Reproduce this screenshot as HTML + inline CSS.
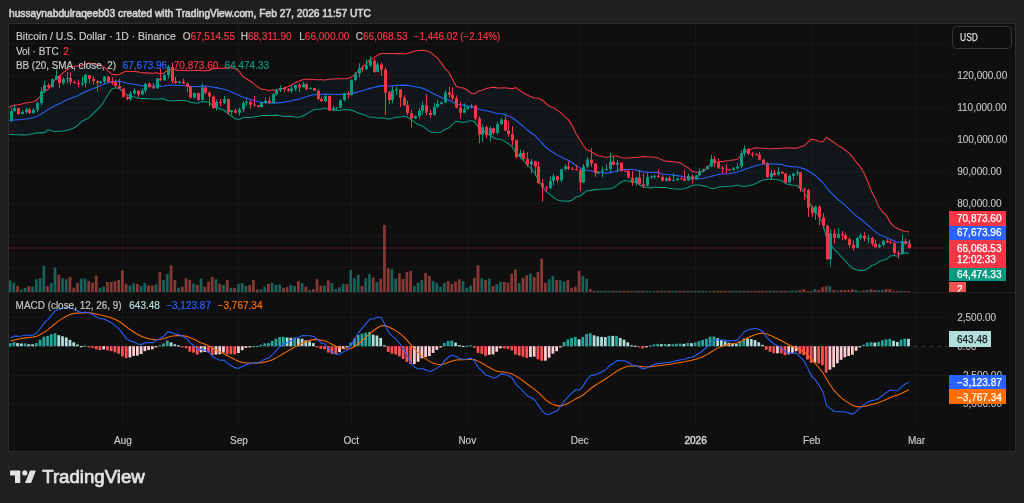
<!DOCTYPE html>
<html><head><meta charset="utf-8"><style>
html,body{margin:0;padding:0;width:1024px;height:503px;overflow:hidden;background:#1f1f1f;}
svg text{font-family:"Liberation Sans",sans-serif;}
text{stroke-width:0.2px} .tt{stroke-width:0.6px} .th{stroke-width:0.25px} .tl{stroke-width:0.1px}
</style></head><body>
<svg width="1024" height="503" viewBox="0 0 1024 503" style="position:absolute;left:0;top:0;display:block;will-change:transform">
<rect x="9" y="24" width="1006" height="428" fill="#0f0f0f"/><line x1="122.5" y1="24" x2="122.5" y2="427.0" stroke="#171717" stroke-width="1"/><line x1="238.5" y1="24" x2="238.5" y2="427.0" stroke="#171717" stroke-width="1"/><line x1="351.5" y1="24" x2="351.5" y2="427.0" stroke="#171717" stroke-width="1"/><line x1="467.5" y1="24" x2="467.5" y2="427.0" stroke="#171717" stroke-width="1"/><line x1="579.5" y1="24" x2="579.5" y2="427.0" stroke="#171717" stroke-width="1"/><line x1="695.5" y1="24" x2="695.5" y2="427.0" stroke="#171717" stroke-width="1"/><line x1="811.5" y1="24" x2="811.5" y2="427.0" stroke="#171717" stroke-width="1"/><line x1="916.5" y1="24" x2="916.5" y2="427.0" stroke="#171717" stroke-width="1"/><line x1="9" y1="267.5" x2="948" y2="267.5" stroke="#171717" stroke-width="1"/><line x1="9" y1="235.5" x2="948" y2="235.5" stroke="#171717" stroke-width="1"/><line x1="9" y1="203.5" x2="948" y2="203.5" stroke="#171717" stroke-width="1"/><line x1="9" y1="171.5" x2="948" y2="171.5" stroke="#171717" stroke-width="1"/><line x1="9" y1="139.5" x2="948" y2="139.5" stroke="#171717" stroke-width="1"/><line x1="9" y1="107.5" x2="948" y2="107.5" stroke="#171717" stroke-width="1"/><line x1="9" y1="75.5" x2="948" y2="75.5" stroke="#171717" stroke-width="1"/><line x1="9" y1="43.5" x2="948" y2="43.5" stroke="#171717" stroke-width="1"/><line x1="9" y1="317.5" x2="948" y2="317.5" stroke="#171717" stroke-width="1"/><line x1="9" y1="375.5" x2="948" y2="375.5" stroke="#171717" stroke-width="1"/><line x1="9" y1="404.5" x2="948" y2="404.5" stroke="#171717" stroke-width="1"/><defs><clipPath id="cp1"><rect x="9" y="24" width="939" height="268.5"/></clipPath><clipPath id="cp2"><rect x="9" y="293.0" width="939" height="134.0"/></clipPath></defs><g clip-path="url(#cp1)"><path d="M6.85,108.36 L10.6,106.74 L14.34,105.12 L18.08,104.65 L21.83,104 L25.57,103.04 L29.32,102.45 L33.06,101.64 L36.8,99.99 L40.55,95.97 L44.29,91.47 L48.03,89.47 L51.78,84.22 L55.52,78.95 L59.26,76.09 L63.01,72.82 L66.75,69.8 L70.49,67.87 L74.24,66.4 L77.98,65.66 L81.72,65.66 L85.47,63.95 L89.21,63.03 L92.95,63.42 L96.7,64.27 L100.44,65.18 L104.18,67.16 L107.93,70.61 L111.67,74.06 L115.41,74.85 L119.16,74.47 L122.9,72.54 L126.64,71.03 L130.39,71.56 L134.13,71.6 L137.87,71.86 L141.62,72.71 L145.36,72.87 L149.1,73.12 L152.85,73.31 L156.59,72.71 L160.33,73.66 L164.08,72.89 L167.82,69.84 L171.56,69.65 L175.31,69.73 L179.05,70.37 L182.79,70.52 L186.54,70.81 L190.28,70.51 L194.02,70.49 L197.77,70.2 L201.51,70.62 L205.25,70.65 L209,70.39 L212.74,68.76 L216.49,68.27 L220.23,68.24 L223.97,68.36 L227.72,67.28 L231.46,67.99 L235.2,68.64 L238.95,71 L242.69,76.42 L246.43,78.76 L250.18,81 L253.92,83.93 L257.66,86.81 L261.41,89.27 L265.15,89.56 L268.89,90.8 L272.64,89.99 L276.38,90.63 L280.12,89.5 L283.87,88.09 L287.61,86.67 L291.35,84.99 L295.1,82.74 L298.84,81.32 L302.58,79.8 L306.33,79.32 L310.07,79.3 L313.81,79.52 L317.56,79.65 L321.3,79.68 L325.04,79.98 L328.79,79.25 L332.53,79.1 L336.27,78.68 L340.02,78.69 L343.76,78.67 L347.5,78.7 L351.25,77.1 L354.99,74.33 L358.73,70.47 L362.48,67.16 L366.22,63.56 L369.96,59.53 L373.71,57.87 L377.45,55.22 L381.19,53.41 L384.94,53.51 L388.68,53.45 L392.42,53.47 L396.17,53.6 L399.91,53.57 L403.65,54.06 L407.4,53.5 L411.14,52.24 L414.89,51.03 L418.63,50.47 L422.37,50.31 L426.12,50.69 L429.86,52.02 L433.6,54.96 L437.35,58.2 L441.09,62.6 L444.83,68.32 L448.58,71.99 L452.32,78.89 L456.06,86.09 L459.81,87.46 L463.55,87.95 L467.29,90.21 L471.04,92.9 L474.78,93.7 L478.52,91.04 L482.27,90.19 L486.01,88.41 L489.75,87.85 L493.5,87.16 L497.24,87.86 L500.98,88.07 L504.73,87.82 L508.47,88.15 L512.21,88.6 L515.96,87.63 L519.7,90.38 L523.44,92.96 L527.19,95.07 L530.93,96.84 L534.67,97.91 L538.42,98.24 L542.16,99.99 L545.9,103.48 L549.65,106.35 L553.39,107.67 L557.13,110.35 L560.88,112.63 L564.62,116.37 L568.36,119.68 L572.11,125.37 L575.85,133.49 L579.59,139.55 L583.34,145.78 L587.08,150.21 L590.82,151.23 L594.57,154.02 L598.31,155.71 L602.06,156.3 L605.8,157.41 L609.54,156.65 L613.29,156.08 L617.03,156.02 L620.77,157.48 L624.52,158.05 L628.26,157.93 L632,157.53 L635.75,157.44 L639.49,157.02 L643.23,156.47 L646.98,156.73 L650.72,156.99 L654.46,157.27 L658.21,157.88 L661.95,159.85 L665.69,161.26 L669.44,161.36 L673.18,161.68 L676.92,162.26 L680.67,163.07 L684.41,165.67 L688.15,167.74 L691.9,171.31 L695.64,172.29 L699.38,172.34 L703.13,170.66 L706.87,168.49 L710.61,164.52 L714.36,162.38 L718.1,161.99 L721.84,161.41 L725.59,160.95 L729.33,160.59 L733.07,160.08 L736.82,159.58 L740.56,156.2 L744.3,152.36 L748.05,150.49 L751.79,148.95 L755.53,147.82 L759.28,147.95 L763.02,148.18 L766.76,148.5 L770.51,148.71 L774.25,148.49 L778,148.4 L781.74,148.26 L785.48,147.83 L789.23,148.08 L792.97,148.11 L796.71,148.14 L800.46,146.81 L804.2,145.71 L807.94,142.12 L811.69,139.15 L815.43,140.11 L819.17,141.43 L822.92,141.78 L826.66,137.23 L830.4,139.96 L834.15,142.44 L837.89,145.64 L841.63,147.43 L845.38,150.24 L849.12,153.15 L852.86,157.29 L856.61,162.59 L860.35,166.9 L864.09,173.32 L867.84,181.52 L871.58,191.8 L875.32,198.82 L879.07,207.34 L882.81,211.82 L886.55,215.63 L890.3,222.58 L894.04,226.62 L897.78,228.77 L901.53,230.24 L905.27,231.4 L909.01,231.81 L909.01,253.43 L905.27,252.85 L901.53,252.97 L897.78,256.23 L894.04,255.55 L890.3,256.05 L886.55,259.35 L882.81,260.23 L879.07,261.4 L875.32,264.41 L871.58,265.58 L867.84,268.72 L864.09,270.48 L860.35,270.63 L856.61,269.65 L852.86,268.51 L849.12,265.06 L845.38,260.94 L841.63,257.13 L837.89,253.11 L834.15,249.29 L830.4,243.94 L826.66,238.79 L822.92,223.74 L819.17,216.9 L815.43,211.34 L811.69,206.97 L807.94,199.37 L804.2,191.84 L800.46,188.76 L796.71,185.5 L792.97,185.19 L789.23,184.64 L785.48,183.51 L781.74,180.72 L778,179.85 L774.25,179.49 L770.51,178.95 L766.76,179.41 L763.02,179.97 L759.28,181.45 L755.53,183.68 L751.79,184.99 L748.05,185.85 L744.3,186.59 L740.56,185.94 L736.82,185.06 L733.07,185.96 L729.33,186.31 L725.59,186.55 L721.84,186.77 L718.1,187.01 L714.36,188.43 L710.61,188.5 L706.87,186.39 L703.13,185.89 L699.38,185.07 L695.64,185.1 L691.9,185.62 L688.15,187.52 L684.41,188.44 L680.67,189.16 L676.92,188.96 L673.18,188.7 L669.44,188.18 L665.69,187.56 L661.95,187.5 L658.21,187.36 L654.46,186.93 L650.72,187.87 L646.98,187.5 L643.23,186.97 L639.49,184.72 L635.75,182.54 L632,181.61 L628.26,180.95 L624.52,180.69 L620.77,182.23 L617.03,185.41 L613.29,187.8 L609.54,189.08 L605.8,188.79 L602.06,189.15 L598.31,189.22 L594.57,189.62 L590.82,190.37 L587.08,190.73 L583.34,193.25 L579.59,196.23 L575.85,197.09 L572.11,200.18 L568.36,201.37 L564.62,201.09 L560.88,201.01 L557.13,199.88 L553.39,197.24 L549.65,194.39 L545.9,191.02 L542.16,186.28 L538.42,180 L534.67,172.93 L530.93,168.62 L527.19,165.01 L523.44,160.48 L519.7,156.67 L515.96,153.37 L512.21,146.93 L508.47,143.74 L504.73,141.36 L500.98,139.55 L497.24,139.07 L493.5,137.87 L489.75,134.98 L486.01,133.2 L482.27,129.74 L478.52,127.5 L474.78,121.9 L471.04,120.62 L467.29,121.7 L463.55,122.29 L459.81,121.86 L456.06,121.21 L452.32,124.62 L448.58,128.13 L444.83,129.51 L441.09,132.07 L437.35,132.79 L433.6,132.53 L429.86,131.62 L426.12,128.81 L422.37,125.91 L418.63,124.72 L414.89,122.39 L411.14,119.58 L407.4,117.24 L403.65,116.18 L399.91,117.2 L396.17,117.01 L392.42,118.31 L388.68,119.21 L384.94,118.22 L381.19,117.87 L377.45,118.02 L373.71,117.35 L369.96,117.24 L366.22,115.63 L362.48,114.34 L358.73,113.22 L354.99,111.44 L351.25,110.11 L347.5,109.49 L343.76,109.46 L340.02,110.41 L336.27,110.47 L332.53,109.58 L328.79,109.31 L325.04,108.05 L321.3,109.21 L317.56,109.29 L313.81,109.81 L310.07,111.89 L306.33,114.34 L302.58,115.98 L298.84,117.26 L295.1,116.99 L291.35,116.52 L287.61,116.16 L283.87,116.46 L280.12,115.79 L276.38,115.12 L272.64,115.53 L268.89,115.29 L265.15,115.55 L261.41,115.55 L257.66,116.4 L253.92,116.94 L250.18,117.51 L246.43,117.56 L242.69,117.82 L238.95,119.64 L235.2,118.57 L231.46,115.97 L227.72,113.49 L223.97,110.02 L220.23,108.96 L216.49,107 L212.74,105.39 L209,102.41 L205.25,101.55 L201.51,101.66 L197.77,103.26 L194.02,102.66 L190.28,102.19 L186.54,100.72 L182.79,100.56 L179.05,100.54 L175.31,100.69 L171.56,100.68 L167.82,100.7 L164.08,99.09 L160.33,98.72 L156.59,99.15 L152.85,99.01 L149.1,98.79 L145.36,98.64 L141.62,98.63 L137.87,98.21 L134.13,96.91 L130.39,96.2 L126.64,94.98 L122.9,91.48 L119.16,88.58 L115.41,87.86 L111.67,89.17 L107.93,94.7 L104.18,100.95 L100.44,106.55 L96.7,110.2 L92.95,113.94 L89.21,117.6 L85.47,119.59 L81.72,121.49 L77.98,125.21 L74.24,127.7 L70.49,129.15 L66.75,130.36 L63.01,130.95 L59.26,131.27 L55.52,131.69 L51.78,130.72 L48.03,129.73 L44.29,132.64 L40.55,132.87 L36.8,132.78 L33.06,133.66 L29.32,134.52 L25.57,135.09 L21.83,134.87 L18.08,134.8 L14.34,134.83 L10.6,134.39 L6.85,133.95 Z" fill="#2196f3" fill-opacity="0.05" stroke="none"/><rect x="8.73" y="280.4" width="2.74" height="11.6" fill="#19615a"/><rect x="12.47" y="282.7" width="2.74" height="9.3" fill="#19615a"/><rect x="16.21" y="286" width="2.74" height="6" fill="#863935"/><rect x="19.96" y="289.4" width="2.74" height="2.6" fill="#19615a"/><rect x="23.7" y="287.8" width="2.74" height="4.2" fill="#19615a"/><rect x="27.45" y="286" width="2.74" height="6" fill="#863935"/><rect x="31.19" y="286.7" width="2.74" height="5.3" fill="#19615a"/><rect x="34.93" y="279.3" width="2.74" height="12.7" fill="#19615a"/><rect x="38.68" y="278.2" width="2.74" height="13.8" fill="#19615a"/><rect x="42.42" y="265.8" width="2.74" height="26.2" fill="#19615a"/><rect x="46.16" y="286" width="2.74" height="6" fill="#863935"/><rect x="49.91" y="283.1" width="2.74" height="8.9" fill="#19615a"/><rect x="53.65" y="267.6" width="2.74" height="24.4" fill="#19615a"/><rect x="57.39" y="274.8" width="2.74" height="17.2" fill="#863935"/><rect x="61.14" y="278.2" width="2.74" height="13.8" fill="#19615a"/><rect x="64.88" y="279.3" width="2.74" height="12.7" fill="#19615a"/><rect x="68.62" y="277" width="2.74" height="15" fill="#863935"/><rect x="72.37" y="287.8" width="2.74" height="4.2" fill="#863935"/><rect x="76.11" y="283.1" width="2.74" height="8.9" fill="#863935"/><rect x="79.85" y="278.6" width="2.74" height="13.4" fill="#19615a"/><rect x="83.6" y="278.6" width="2.74" height="13.4" fill="#19615a"/><rect x="87.34" y="281.1" width="2.74" height="10.9" fill="#863935"/><rect x="91.08" y="282.7" width="2.74" height="9.3" fill="#863935"/><rect x="94.83" y="275.5" width="2.74" height="16.5" fill="#863935"/><rect x="98.57" y="287.8" width="2.74" height="4.2" fill="#19615a"/><rect x="102.31" y="286.7" width="2.74" height="5.3" fill="#19615a"/><rect x="106.06" y="282" width="2.74" height="10" fill="#863935"/><rect x="109.8" y="282" width="2.74" height="10" fill="#863935"/><rect x="113.54" y="281.1" width="2.74" height="10.9" fill="#863935"/><rect x="117.29" y="280" width="2.74" height="12" fill="#863935"/><rect x="121.03" y="270.3" width="2.74" height="21.7" fill="#863935"/><rect x="124.77" y="283.8" width="2.74" height="8.2" fill="#863935"/><rect x="128.52" y="285.6" width="2.74" height="6.4" fill="#19615a"/><rect x="132.26" y="283.1" width="2.74" height="8.9" fill="#19615a"/><rect x="136" y="283.8" width="2.74" height="8.2" fill="#863935"/><rect x="139.75" y="286" width="2.74" height="6" fill="#19615a"/><rect x="143.49" y="283.1" width="2.74" height="8.9" fill="#19615a"/><rect x="147.23" y="285.4" width="2.74" height="6.6" fill="#863935"/><rect x="150.98" y="285.4" width="2.74" height="6.6" fill="#863935"/><rect x="154.72" y="284.2" width="2.74" height="7.8" fill="#19615a"/><rect x="158.46" y="272.1" width="2.74" height="19.9" fill="#863935"/><rect x="162.21" y="280" width="2.74" height="12" fill="#19615a"/><rect x="165.95" y="274.1" width="2.74" height="17.9" fill="#19615a"/><rect x="169.69" y="265.4" width="2.74" height="26.6" fill="#863935"/><rect x="173.44" y="280" width="2.74" height="12" fill="#863935"/><rect x="177.18" y="287.8" width="2.74" height="4.2" fill="#19615a"/><rect x="180.92" y="286.7" width="2.74" height="5.3" fill="#863935"/><rect x="184.67" y="278.2" width="2.74" height="13.8" fill="#863935"/><rect x="188.41" y="280" width="2.74" height="12" fill="#863935"/><rect x="192.15" y="283.8" width="2.74" height="8.2" fill="#19615a"/><rect x="195.9" y="284.9" width="2.74" height="7.1" fill="#863935"/><rect x="199.64" y="278.6" width="2.74" height="13.4" fill="#19615a"/><rect x="203.38" y="286.7" width="2.74" height="5.3" fill="#863935"/><rect x="207.13" y="281.6" width="2.74" height="10.4" fill="#863935"/><rect x="210.87" y="277" width="2.74" height="15" fill="#863935"/><rect x="214.62" y="279.3" width="2.74" height="12.7" fill="#19615a"/><rect x="218.36" y="283.8" width="2.74" height="8.2" fill="#863935"/><rect x="222.1" y="284.9" width="2.74" height="7.1" fill="#19615a"/><rect x="225.85" y="280" width="2.74" height="12" fill="#863935"/><rect x="229.59" y="287.8" width="2.74" height="4.2" fill="#19615a"/><rect x="233.33" y="287.8" width="2.74" height="4.2" fill="#863935"/><rect x="237.08" y="283.8" width="2.74" height="8.2" fill="#19615a"/><rect x="240.82" y="283.1" width="2.74" height="8.9" fill="#19615a"/><rect x="244.56" y="286" width="2.74" height="6" fill="#19615a"/><rect x="248.31" y="284.9" width="2.74" height="7.1" fill="#863935"/><rect x="252.05" y="280" width="2.74" height="12" fill="#863935"/><rect x="255.79" y="289.4" width="2.74" height="2.6" fill="#863935"/><rect x="259.54" y="289.4" width="2.74" height="2.6" fill="#19615a"/><rect x="263.28" y="286.7" width="2.74" height="5.3" fill="#19615a"/><rect x="267.02" y="283.8" width="2.74" height="8.2" fill="#863935"/><rect x="270.77" y="282.7" width="2.74" height="9.3" fill="#19615a"/><rect x="274.51" y="284.9" width="2.74" height="7.1" fill="#19615a"/><rect x="278.25" y="284.2" width="2.74" height="7.8" fill="#19615a"/><rect x="282" y="287.8" width="2.74" height="4.2" fill="#863935"/><rect x="285.74" y="287.2" width="2.74" height="4.8" fill="#863935"/><rect x="289.48" y="284.9" width="2.74" height="7.1" fill="#19615a"/><rect x="293.23" y="286" width="2.74" height="6" fill="#19615a"/><rect x="296.97" y="281.1" width="2.74" height="10.9" fill="#863935"/><rect x="300.71" y="283.1" width="2.74" height="8.9" fill="#19615a"/><rect x="304.46" y="286.7" width="2.74" height="5.3" fill="#863935"/><rect x="308.2" y="290.1" width="2.74" height="1.9" fill="#19615a"/><rect x="311.94" y="289" width="2.74" height="3" fill="#863935"/><rect x="315.69" y="279.3" width="2.74" height="12.7" fill="#863935"/><rect x="319.43" y="285.6" width="2.74" height="6.4" fill="#863935"/><rect x="323.17" y="285.6" width="2.74" height="6.4" fill="#19615a"/><rect x="326.92" y="280.4" width="2.74" height="11.6" fill="#863935"/><rect x="330.66" y="283.1" width="2.74" height="8.9" fill="#19615a"/><rect x="334.4" y="289" width="2.74" height="3" fill="#19615a"/><rect x="338.15" y="287.2" width="2.74" height="4.8" fill="#19615a"/><rect x="341.89" y="283.8" width="2.74" height="8.2" fill="#19615a"/><rect x="345.63" y="284.2" width="2.74" height="7.8" fill="#863935"/><rect x="349.38" y="269.9" width="2.74" height="22.1" fill="#19615a"/><rect x="353.12" y="278.2" width="2.74" height="13.8" fill="#19615a"/><rect x="356.86" y="274.8" width="2.74" height="17.2" fill="#19615a"/><rect x="360.61" y="286" width="2.74" height="6" fill="#863935"/><rect x="364.35" y="278.2" width="2.74" height="13.8" fill="#19615a"/><rect x="368.09" y="274.1" width="2.74" height="17.9" fill="#19615a"/><rect x="371.84" y="277.5" width="2.74" height="14.5" fill="#863935"/><rect x="375.58" y="282" width="2.74" height="10" fill="#19615a"/><rect x="379.32" y="278.6" width="2.74" height="13.4" fill="#863935"/><rect x="383.07" y="224.9" width="2.74" height="67.1" fill="#863935"/><rect x="386.81" y="268.1" width="2.74" height="23.9" fill="#863935"/><rect x="390.55" y="269.2" width="2.74" height="22.8" fill="#19615a"/><rect x="394.3" y="278.6" width="2.74" height="13.4" fill="#19615a"/><rect x="398.04" y="273.2" width="2.74" height="18.8" fill="#863935"/><rect x="401.78" y="278.9" width="2.74" height="13.1" fill="#863935"/><rect x="405.53" y="272.1" width="2.74" height="19.9" fill="#863935"/><rect x="409.27" y="270.8" width="2.74" height="21.2" fill="#863935"/><rect x="413.02" y="286" width="2.74" height="6" fill="#19615a"/><rect x="416.76" y="282.7" width="2.74" height="9.3" fill="#19615a"/><rect x="420.5" y="280" width="2.74" height="12" fill="#19615a"/><rect x="424.25" y="273" width="2.74" height="19" fill="#863935"/><rect x="427.99" y="275.9" width="2.74" height="16.1" fill="#863935"/><rect x="431.73" y="281.1" width="2.74" height="10.9" fill="#19615a"/><rect x="435.48" y="283.1" width="2.74" height="8.9" fill="#19615a"/><rect x="439.22" y="286.7" width="2.74" height="5.3" fill="#19615a"/><rect x="442.96" y="283.1" width="2.74" height="8.9" fill="#19615a"/><rect x="446.71" y="281.1" width="2.74" height="10.9" fill="#863935"/><rect x="450.45" y="283.8" width="2.74" height="8.2" fill="#863935"/><rect x="454.19" y="281.6" width="2.74" height="10.4" fill="#863935"/><rect x="457.94" y="279.3" width="2.74" height="12.7" fill="#863935"/><rect x="461.68" y="281.1" width="2.74" height="10.9" fill="#19615a"/><rect x="465.42" y="287.8" width="2.74" height="4.2" fill="#19615a"/><rect x="469.17" y="285.6" width="2.74" height="6.4" fill="#19615a"/><rect x="472.91" y="278.2" width="2.74" height="13.8" fill="#863935"/><rect x="476.65" y="265.2" width="2.74" height="26.8" fill="#863935"/><rect x="480.4" y="278.2" width="2.74" height="13.8" fill="#19615a"/><rect x="484.14" y="280" width="2.74" height="12" fill="#863935"/><rect x="487.88" y="278.6" width="2.74" height="13.4" fill="#19615a"/><rect x="491.63" y="286" width="2.74" height="6" fill="#863935"/><rect x="495.37" y="284.2" width="2.74" height="7.8" fill="#19615a"/><rect x="499.11" y="282" width="2.74" height="10" fill="#19615a"/><rect x="502.86" y="282" width="2.74" height="10" fill="#863935"/><rect x="506.6" y="282.7" width="2.74" height="9.3" fill="#863935"/><rect x="510.34" y="273.7" width="2.74" height="18.3" fill="#863935"/><rect x="514.09" y="269.2" width="2.74" height="22.8" fill="#863935"/><rect x="517.83" y="283.1" width="2.74" height="8.9" fill="#19615a"/><rect x="521.57" y="278.2" width="2.74" height="13.8" fill="#863935"/><rect x="525.32" y="275.3" width="2.74" height="16.7" fill="#863935"/><rect x="529.06" y="273.7" width="2.74" height="18.3" fill="#19615a"/><rect x="532.8" y="277" width="2.74" height="15" fill="#863935"/><rect x="536.55" y="272.1" width="2.74" height="19.9" fill="#863935"/><rect x="540.29" y="258.6" width="2.74" height="33.4" fill="#863935"/><rect x="544.03" y="282.7" width="2.74" height="9.3" fill="#863935"/><rect x="547.78" y="279.3" width="2.74" height="12.7" fill="#19615a"/><rect x="551.52" y="275.9" width="2.74" height="16.1" fill="#19615a"/><rect x="555.26" y="280" width="2.74" height="12" fill="#863935"/><rect x="559.01" y="280.4" width="2.74" height="11.6" fill="#19615a"/><rect x="562.75" y="281.6" width="2.74" height="10.4" fill="#19615a"/><rect x="566.49" y="280" width="2.74" height="12" fill="#863935"/><rect x="570.24" y="287.8" width="2.74" height="4.2" fill="#863935"/><rect x="573.98" y="286.7" width="2.74" height="5.3" fill="#863935"/><rect x="577.72" y="270.8" width="2.74" height="21.2" fill="#863935"/><rect x="581.47" y="275.9" width="2.74" height="16.1" fill="#19615a"/><rect x="585.21" y="278.6" width="2.74" height="13.4" fill="#19615a"/><rect x="588.95" y="289" width="2.74" height="3" fill="#863935"/><rect x="592.7" y="290.9" width="2.74" height="1.1" fill="#863935"/><rect x="596.44" y="290.9" width="2.74" height="1.1" fill="#19615a"/><rect x="600.19" y="290.9" width="2.74" height="1.1" fill="#19615a"/><rect x="603.93" y="290.9" width="2.74" height="1.1" fill="#19615a"/><rect x="607.67" y="290.9" width="2.74" height="1.1" fill="#19615a"/><rect x="611.42" y="290.9" width="2.74" height="1.1" fill="#863935"/><rect x="615.16" y="290.9" width="2.74" height="1.1" fill="#19615a"/><rect x="618.9" y="290.9" width="2.74" height="1.1" fill="#863935"/><rect x="622.65" y="290.9" width="2.74" height="1.1" fill="#863935"/><rect x="626.39" y="290.9" width="2.74" height="1.1" fill="#863935"/><rect x="630.13" y="290.9" width="2.74" height="1.1" fill="#863935"/><rect x="633.88" y="290.9" width="2.74" height="1.1" fill="#19615a"/><rect x="637.62" y="290.9" width="2.74" height="1.1" fill="#863935"/><rect x="641.36" y="290.9" width="2.74" height="1.1" fill="#863935"/><rect x="645.11" y="290.9" width="2.74" height="1.1" fill="#19615a"/><rect x="648.85" y="290.9" width="2.74" height="1.1" fill="#19615a"/><rect x="652.59" y="290.9" width="2.74" height="1.1" fill="#19615a"/><rect x="656.34" y="290.9" width="2.74" height="1.1" fill="#863935"/><rect x="660.08" y="290.9" width="2.74" height="1.1" fill="#863935"/><rect x="663.82" y="290.9" width="2.74" height="1.1" fill="#19615a"/><rect x="667.57" y="290.9" width="2.74" height="1.1" fill="#863935"/><rect x="671.31" y="290.9" width="2.74" height="1.1" fill="#19615a"/><rect x="675.05" y="290.9" width="2.74" height="1.1" fill="#19615a"/><rect x="678.8" y="290.9" width="2.74" height="1.1" fill="#863935"/><rect x="682.54" y="290.9" width="2.74" height="1.1" fill="#863935"/><rect x="686.28" y="290.9" width="2.74" height="1.1" fill="#19615a"/><rect x="690.03" y="290.9" width="2.74" height="1.1" fill="#863935"/><rect x="693.77" y="290.9" width="2.74" height="1.1" fill="#19615a"/><rect x="697.51" y="290.9" width="2.74" height="1.1" fill="#19615a"/><rect x="701.26" y="290.9" width="2.74" height="1.1" fill="#19615a"/><rect x="705" y="290.9" width="2.74" height="1.1" fill="#19615a"/><rect x="708.74" y="290.9" width="2.74" height="1.1" fill="#19615a"/><rect x="712.49" y="290.9" width="2.74" height="1.1" fill="#863935"/><rect x="716.23" y="290.9" width="2.74" height="1.1" fill="#863935"/><rect x="719.97" y="290.9" width="2.74" height="1.1" fill="#863935"/><rect x="723.72" y="290.9" width="2.74" height="1.1" fill="#863935"/><rect x="727.46" y="290.9" width="2.74" height="1.1" fill="#863935"/><rect x="731.2" y="290.9" width="2.74" height="1.1" fill="#19615a"/><rect x="734.95" y="290.9" width="2.74" height="1.1" fill="#19615a"/><rect x="738.69" y="290.9" width="2.74" height="1.1" fill="#19615a"/><rect x="742.43" y="290.9" width="2.74" height="1.1" fill="#19615a"/><rect x="746.18" y="290.9" width="2.74" height="1.1" fill="#863935"/><rect x="749.92" y="290.9" width="2.74" height="1.1" fill="#863935"/><rect x="753.66" y="290.9" width="2.74" height="1.1" fill="#863935"/><rect x="757.41" y="290.9" width="2.74" height="1.1" fill="#863935"/><rect x="761.15" y="290.9" width="2.74" height="1.1" fill="#863935"/><rect x="764.89" y="290.9" width="2.74" height="1.1" fill="#863935"/><rect x="768.64" y="290.9" width="2.74" height="1.1" fill="#19615a"/><rect x="772.38" y="290.9" width="2.74" height="1.1" fill="#863935"/><rect x="776.12" y="290.9" width="2.74" height="1.1" fill="#19615a"/><rect x="779.87" y="290.9" width="2.74" height="1.1" fill="#863935"/><rect x="783.61" y="290.9" width="2.74" height="1.1" fill="#863935"/><rect x="787.36" y="291" width="2.74" height="1" fill="#19615a"/><rect x="791.1" y="290.6" width="2.74" height="1.4" fill="#19615a"/><rect x="794.84" y="290.6" width="2.74" height="1.4" fill="#19615a"/><rect x="798.59" y="290" width="2.74" height="2" fill="#863935"/><rect x="802.33" y="289.1" width="2.74" height="2.9" fill="#863935"/><rect x="806.07" y="291" width="2.74" height="1" fill="#863935"/><rect x="809.82" y="291" width="2.74" height="1" fill="#863935"/><rect x="813.56" y="289.1" width="2.74" height="2.9" fill="#19615a"/><rect x="817.3" y="290" width="2.74" height="2" fill="#863935"/><rect x="821.05" y="287.2" width="2.74" height="4.8" fill="#863935"/><rect x="824.79" y="286.2" width="2.74" height="5.8" fill="#863935"/><rect x="828.53" y="286.2" width="2.74" height="5.8" fill="#19615a"/><rect x="832.28" y="290" width="2.74" height="2" fill="#863935"/><rect x="836.02" y="290.6" width="2.74" height="1.4" fill="#19615a"/><rect x="839.76" y="290" width="2.74" height="2" fill="#863935"/><rect x="843.51" y="290" width="2.74" height="2" fill="#863935"/><rect x="847.25" y="290" width="2.74" height="2" fill="#863935"/><rect x="850.99" y="289.1" width="2.74" height="2.9" fill="#863935"/><rect x="854.74" y="290" width="2.74" height="2" fill="#19615a"/><rect x="858.48" y="291.2" width="2.74" height="0.8" fill="#19615a"/><rect x="862.22" y="290.6" width="2.74" height="1.4" fill="#863935"/><rect x="865.97" y="290" width="2.74" height="2" fill="#19615a"/><rect x="869.71" y="289.1" width="2.74" height="2.9" fill="#863935"/><rect x="873.45" y="290" width="2.74" height="2" fill="#863935"/><rect x="877.2" y="290" width="2.74" height="2" fill="#19615a"/><rect x="880.94" y="290" width="2.74" height="2" fill="#19615a"/><rect x="884.68" y="289.1" width="2.74" height="2.9" fill="#863935"/><rect x="888.43" y="289.1" width="2.74" height="2.9" fill="#863935"/><rect x="892.17" y="291" width="2.74" height="1" fill="#863935"/><rect x="895.91" y="291" width="2.74" height="1" fill="#863935"/><rect x="899.66" y="291" width="2.74" height="1" fill="#19615a"/><rect x="903.4" y="291" width="2.74" height="1" fill="#863935"/><rect x="907.14" y="291" width="2.74" height="1" fill="#863935"/><line x1="9" y1="248" x2="948" y2="248" stroke="#f23645" stroke-width="1.4" stroke-dasharray="1.2 1.2" stroke-opacity="0.35"/><path d="M6.85,108.36 L10.6,106.74 L14.34,105.12 L18.08,104.65 L21.83,104 L25.57,103.04 L29.32,102.45 L33.06,101.64 L36.8,99.99 L40.55,95.97 L44.29,91.47 L48.03,89.47 L51.78,84.22 L55.52,78.95 L59.26,76.09 L63.01,72.82 L66.75,69.8 L70.49,67.87 L74.24,66.4 L77.98,65.66 L81.72,65.66 L85.47,63.95 L89.21,63.03 L92.95,63.42 L96.7,64.27 L100.44,65.18 L104.18,67.16 L107.93,70.61 L111.67,74.06 L115.41,74.85 L119.16,74.47 L122.9,72.54 L126.64,71.03 L130.39,71.56 L134.13,71.6 L137.87,71.86 L141.62,72.71 L145.36,72.87 L149.1,73.12 L152.85,73.31 L156.59,72.71 L160.33,73.66 L164.08,72.89 L167.82,69.84 L171.56,69.65 L175.31,69.73 L179.05,70.37 L182.79,70.52 L186.54,70.81 L190.28,70.51 L194.02,70.49 L197.77,70.2 L201.51,70.62 L205.25,70.65 L209,70.39 L212.74,68.76 L216.49,68.27 L220.23,68.24 L223.97,68.36 L227.72,67.28 L231.46,67.99 L235.2,68.64 L238.95,71 L242.69,76.42 L246.43,78.76 L250.18,81 L253.92,83.93 L257.66,86.81 L261.41,89.27 L265.15,89.56 L268.89,90.8 L272.64,89.99 L276.38,90.63 L280.12,89.5 L283.87,88.09 L287.61,86.67 L291.35,84.99 L295.1,82.74 L298.84,81.32 L302.58,79.8 L306.33,79.32 L310.07,79.3 L313.81,79.52 L317.56,79.65 L321.3,79.68 L325.04,79.98 L328.79,79.25 L332.53,79.1 L336.27,78.68 L340.02,78.69 L343.76,78.67 L347.5,78.7 L351.25,77.1 L354.99,74.33 L358.73,70.47 L362.48,67.16 L366.22,63.56 L369.96,59.53 L373.71,57.87 L377.45,55.22 L381.19,53.41 L384.94,53.51 L388.68,53.45 L392.42,53.47 L396.17,53.6 L399.91,53.57 L403.65,54.06 L407.4,53.5 L411.14,52.24 L414.89,51.03 L418.63,50.47 L422.37,50.31 L426.12,50.69 L429.86,52.02 L433.6,54.96 L437.35,58.2 L441.09,62.6 L444.83,68.32 L448.58,71.99 L452.32,78.89 L456.06,86.09 L459.81,87.46 L463.55,87.95 L467.29,90.21 L471.04,92.9 L474.78,93.7 L478.52,91.04 L482.27,90.19 L486.01,88.41 L489.75,87.85 L493.5,87.16 L497.24,87.86 L500.98,88.07 L504.73,87.82 L508.47,88.15 L512.21,88.6 L515.96,87.63 L519.7,90.38 L523.44,92.96 L527.19,95.07 L530.93,96.84 L534.67,97.91 L538.42,98.24 L542.16,99.99 L545.9,103.48 L549.65,106.35 L553.39,107.67 L557.13,110.35 L560.88,112.63 L564.62,116.37 L568.36,119.68 L572.11,125.37 L575.85,133.49 L579.59,139.55 L583.34,145.78 L587.08,150.21 L590.82,151.23 L594.57,154.02 L598.31,155.71 L602.06,156.3 L605.8,157.41 L609.54,156.65 L613.29,156.08 L617.03,156.02 L620.77,157.48 L624.52,158.05 L628.26,157.93 L632,157.53 L635.75,157.44 L639.49,157.02 L643.23,156.47 L646.98,156.73 L650.72,156.99 L654.46,157.27 L658.21,157.88 L661.95,159.85 L665.69,161.26 L669.44,161.36 L673.18,161.68 L676.92,162.26 L680.67,163.07 L684.41,165.67 L688.15,167.74 L691.9,171.31 L695.64,172.29 L699.38,172.34 L703.13,170.66 L706.87,168.49 L710.61,164.52 L714.36,162.38 L718.1,161.99 L721.84,161.41 L725.59,160.95 L729.33,160.59 L733.07,160.08 L736.82,159.58 L740.56,156.2 L744.3,152.36 L748.05,150.49 L751.79,148.95 L755.53,147.82 L759.28,147.95 L763.02,148.18 L766.76,148.5 L770.51,148.71 L774.25,148.49 L778,148.4 L781.74,148.26 L785.48,147.83 L789.23,148.08 L792.97,148.11 L796.71,148.14 L800.46,146.81 L804.2,145.71 L807.94,142.12 L811.69,139.15 L815.43,140.11 L819.17,141.43 L822.92,141.78 L826.66,137.23 L830.4,139.96 L834.15,142.44 L837.89,145.64 L841.63,147.43 L845.38,150.24 L849.12,153.15 L852.86,157.29 L856.61,162.59 L860.35,166.9 L864.09,173.32 L867.84,181.52 L871.58,191.8 L875.32,198.82 L879.07,207.34 L882.81,211.82 L886.55,215.63 L890.3,222.58 L894.04,226.62 L897.78,228.77 L901.53,230.24 L905.27,231.4 L909.01,231.81" fill="none" stroke="#f23645" stroke-width="1.05"/><path d="M6.85,121.15 L10.6,120.56 L14.34,119.97 L18.08,119.73 L21.83,119.44 L25.57,119.06 L29.32,118.48 L33.06,117.65 L36.8,116.38 L40.55,114.42 L44.29,112.06 L48.03,109.6 L51.78,107.47 L55.52,105.32 L59.26,103.68 L63.01,101.88 L66.75,100.08 L70.49,98.51 L74.24,97.05 L77.98,95.44 L81.72,93.57 L85.47,91.77 L89.21,90.31 L92.95,88.68 L96.7,87.23 L100.44,85.86 L104.18,84.05 L107.93,82.65 L111.67,81.61 L115.41,81.35 L119.16,81.52 L122.9,82.01 L126.64,83 L130.39,83.88 L134.13,84.25 L137.87,85.03 L141.62,85.67 L145.36,85.75 L149.1,85.95 L152.85,86.16 L156.59,85.93 L160.33,86.19 L164.08,85.99 L167.82,85.27 L171.56,85.16 L175.31,85.21 L179.05,85.45 L182.79,85.54 L186.54,85.76 L190.28,86.35 L194.02,86.57 L197.77,86.73 L201.51,86.14 L205.25,86.1 L209,86.4 L212.74,87.07 L216.49,87.63 L220.23,88.6 L223.97,89.19 L227.72,90.38 L231.46,91.98 L235.2,93.6 L238.95,95.32 L242.69,97.12 L246.43,98.16 L250.18,99.25 L253.92,100.43 L257.66,101.6 L261.41,102.41 L265.15,102.55 L268.89,103.04 L272.64,102.76 L276.38,102.87 L280.12,102.64 L283.87,102.27 L287.61,101.41 L291.35,100.75 L295.1,99.86 L298.84,99.29 L302.58,97.89 L306.33,96.83 L310.07,95.59 L313.81,94.66 L317.56,94.47 L321.3,94.44 L325.04,94.01 L328.79,94.28 L332.53,94.34 L336.27,94.57 L340.02,94.55 L343.76,94.06 L347.5,94.09 L351.25,93.6 L354.99,92.88 L358.73,91.84 L362.48,90.75 L366.22,89.59 L369.96,88.38 L373.71,87.61 L377.45,86.62 L381.19,85.64 L384.94,85.86 L388.68,86.33 L392.42,85.89 L396.17,85.3 L399.91,85.38 L403.65,85.12 L407.4,85.37 L411.14,85.91 L414.89,86.71 L418.63,87.59 L422.37,88.11 L426.12,89.75 L429.86,91.82 L433.6,93.74 L437.35,95.49 L441.09,97.33 L444.83,98.91 L448.58,100.06 L452.32,101.75 L456.06,103.65 L459.81,104.66 L463.55,105.12 L467.29,105.95 L471.04,106.76 L474.78,107.8 L478.52,109.27 L482.27,109.96 L486.01,110.8 L489.75,111.41 L493.5,112.51 L497.24,113.46 L500.98,113.81 L504.73,114.59 L508.47,115.94 L512.21,117.76 L515.96,120.5 L519.7,123.52 L523.44,126.72 L527.19,130.04 L530.93,132.73 L534.67,135.42 L538.42,139.12 L542.16,143.13 L545.9,147.25 L549.65,150.37 L553.39,152.45 L557.13,155.11 L560.88,156.82 L564.62,158.73 L568.36,160.52 L572.11,162.77 L575.85,165.29 L579.59,167.89 L583.34,169.51 L587.08,170.47 L590.82,170.8 L594.57,171.82 L598.31,172.46 L602.06,172.72 L605.8,173.1 L609.54,172.86 L613.29,171.94 L617.03,170.71 L620.77,169.85 L624.52,169.37 L628.26,169.44 L632,169.57 L635.75,169.99 L639.49,170.87 L643.23,171.72 L646.98,172.11 L650.72,172.43 L654.46,172.1 L658.21,172.62 L661.95,173.67 L665.69,174.41 L669.44,174.77 L673.18,175.19 L676.92,175.61 L680.67,176.11 L684.41,177.05 L688.15,177.63 L691.9,178.46 L695.64,178.69 L699.38,178.7 L703.13,178.27 L706.87,177.44 L710.61,176.51 L714.36,175.4 L718.1,174.5 L721.84,174.09 L725.59,173.75 L729.33,173.45 L733.07,173.02 L736.82,172.32 L740.56,171.07 L744.3,169.47 L748.05,168.17 L751.79,166.97 L755.53,165.75 L759.28,164.7 L763.02,164.07 L766.76,163.95 L770.51,163.83 L774.25,163.99 L778,164.12 L781.74,164.49 L785.48,165.67 L789.23,166.36 L792.97,166.65 L796.71,166.82 L800.46,167.78 L804.2,168.77 L807.94,170.75 L811.69,173.06 L815.43,175.72 L819.17,179.16 L822.92,182.76 L826.66,188.01 L830.4,191.95 L834.15,195.86 L837.89,199.38 L841.63,202.28 L845.38,205.59 L849.12,209.1 L852.86,212.9 L856.61,216.12 L860.35,218.76 L864.09,221.9 L867.84,225.12 L871.58,228.69 L875.32,231.61 L879.07,234.37 L882.81,236.02 L886.55,237.49 L890.3,239.31 L894.04,241.08 L897.78,242.5 L901.53,241.6 L905.27,242.12 L909.01,242.62" fill="none" stroke="#2962ff" stroke-width="1.05"/><path d="M6.85,133.95 L10.6,134.39 L14.34,134.83 L18.08,134.8 L21.83,134.87 L25.57,135.09 L29.32,134.52 L33.06,133.66 L36.8,132.78 L40.55,132.87 L44.29,132.64 L48.03,129.73 L51.78,130.72 L55.52,131.69 L59.26,131.27 L63.01,130.95 L66.75,130.36 L70.49,129.15 L74.24,127.7 L77.98,125.21 L81.72,121.49 L85.47,119.59 L89.21,117.6 L92.95,113.94 L96.7,110.2 L100.44,106.55 L104.18,100.95 L107.93,94.7 L111.67,89.17 L115.41,87.86 L119.16,88.58 L122.9,91.48 L126.64,94.98 L130.39,96.2 L134.13,96.91 L137.87,98.21 L141.62,98.63 L145.36,98.64 L149.1,98.79 L152.85,99.01 L156.59,99.15 L160.33,98.72 L164.08,99.09 L167.82,100.7 L171.56,100.68 L175.31,100.69 L179.05,100.54 L182.79,100.56 L186.54,100.72 L190.28,102.19 L194.02,102.66 L197.77,103.26 L201.51,101.66 L205.25,101.55 L209,102.41 L212.74,105.39 L216.49,107 L220.23,108.96 L223.97,110.02 L227.72,113.49 L231.46,115.97 L235.2,118.57 L238.95,119.64 L242.69,117.82 L246.43,117.56 L250.18,117.51 L253.92,116.94 L257.66,116.4 L261.41,115.55 L265.15,115.55 L268.89,115.29 L272.64,115.53 L276.38,115.12 L280.12,115.79 L283.87,116.46 L287.61,116.16 L291.35,116.52 L295.1,116.99 L298.84,117.26 L302.58,115.98 L306.33,114.34 L310.07,111.89 L313.81,109.81 L317.56,109.29 L321.3,109.21 L325.04,108.05 L328.79,109.31 L332.53,109.58 L336.27,110.47 L340.02,110.41 L343.76,109.46 L347.5,109.49 L351.25,110.11 L354.99,111.44 L358.73,113.22 L362.48,114.34 L366.22,115.63 L369.96,117.24 L373.71,117.35 L377.45,118.02 L381.19,117.87 L384.94,118.22 L388.68,119.21 L392.42,118.31 L396.17,117.01 L399.91,117.2 L403.65,116.18 L407.4,117.24 L411.14,119.58 L414.89,122.39 L418.63,124.72 L422.37,125.91 L426.12,128.81 L429.86,131.62 L433.6,132.53 L437.35,132.79 L441.09,132.07 L444.83,129.51 L448.58,128.13 L452.32,124.62 L456.06,121.21 L459.81,121.86 L463.55,122.29 L467.29,121.7 L471.04,120.62 L474.78,121.9 L478.52,127.5 L482.27,129.74 L486.01,133.2 L489.75,134.98 L493.5,137.87 L497.24,139.07 L500.98,139.55 L504.73,141.36 L508.47,143.74 L512.21,146.93 L515.96,153.37 L519.7,156.67 L523.44,160.48 L527.19,165.01 L530.93,168.62 L534.67,172.93 L538.42,180 L542.16,186.28 L545.9,191.02 L549.65,194.39 L553.39,197.24 L557.13,199.88 L560.88,201.01 L564.62,201.09 L568.36,201.37 L572.11,200.18 L575.85,197.09 L579.59,196.23 L583.34,193.25 L587.08,190.73 L590.82,190.37 L594.57,189.62 L598.31,189.22 L602.06,189.15 L605.8,188.79 L609.54,189.08 L613.29,187.8 L617.03,185.41 L620.77,182.23 L624.52,180.69 L628.26,180.95 L632,181.61 L635.75,182.54 L639.49,184.72 L643.23,186.97 L646.98,187.5 L650.72,187.87 L654.46,186.93 L658.21,187.36 L661.95,187.5 L665.69,187.56 L669.44,188.18 L673.18,188.7 L676.92,188.96 L680.67,189.16 L684.41,188.44 L688.15,187.52 L691.9,185.62 L695.64,185.1 L699.38,185.07 L703.13,185.89 L706.87,186.39 L710.61,188.5 L714.36,188.43 L718.1,187.01 L721.84,186.77 L725.59,186.55 L729.33,186.31 L733.07,185.96 L736.82,185.06 L740.56,185.94 L744.3,186.59 L748.05,185.85 L751.79,184.99 L755.53,183.68 L759.28,181.45 L763.02,179.97 L766.76,179.41 L770.51,178.95 L774.25,179.49 L778,179.85 L781.74,180.72 L785.48,183.51 L789.23,184.64 L792.97,185.19 L796.71,185.5 L800.46,188.76 L804.2,191.84 L807.94,199.37 L811.69,206.97 L815.43,211.34 L819.17,216.9 L822.92,223.74 L826.66,238.79 L830.4,243.94 L834.15,249.29 L837.89,253.11 L841.63,257.13 L845.38,260.94 L849.12,265.06 L852.86,268.51 L856.61,269.65 L860.35,270.63 L864.09,270.48 L867.84,268.72 L871.58,265.58 L875.32,264.41 L879.07,261.4 L882.81,260.23 L886.55,259.35 L890.3,256.05 L894.04,255.55 L897.78,256.23 L901.53,252.97 L905.27,252.85 L909.01,253.43" fill="none" stroke="#089981" stroke-width="1.05"/><rect x="11" y="108.1" width="1" height="14.3" fill="#089981"/><rect x="10" y="111.1" width="3" height="8.9" fill="#089981"/><rect x="14" y="105.1" width="1" height="6.6" fill="#089981"/><rect x="13" y="108.1" width="3" height="3" fill="#089981"/><rect x="18" y="107.9" width="1" height="6.8" fill="#f23645"/><rect x="17" y="108.1" width="3" height="5.9" fill="#f23645"/><rect x="22" y="110" width="1" height="4" fill="#089981"/><rect x="21" y="112" width="3" height="2" fill="#089981"/><rect x="26" y="108.1" width="1" height="5.7" fill="#089981"/><rect x="25" y="109.3" width="3" height="2.7" fill="#089981"/><rect x="29" y="107.9" width="1" height="6.1" fill="#f23645"/><rect x="28" y="109.3" width="3" height="3.6" fill="#f23645"/><rect x="33" y="108" width="1" height="6" fill="#089981"/><rect x="32" y="109.9" width="3" height="3" fill="#089981"/><rect x="37" y="101.5" width="1" height="10.8" fill="#089981"/><rect x="36" y="103.1" width="3" height="6.8" fill="#089981"/><rect x="41" y="87.2" width="1" height="18.3" fill="#089981"/><rect x="40" y="91.2" width="3" height="11.9" fill="#089981"/><rect x="44" y="80.7" width="1" height="11.9" fill="#089981"/><rect x="43" y="85.2" width="3" height="6" fill="#089981"/><rect x="48" y="83.1" width="1" height="5.3" fill="#f23645"/><rect x="47" y="85.2" width="3" height="2" fill="#f23645"/><rect x="52" y="78.3" width="1" height="8.3" fill="#089981"/><rect x="51" y="79.3" width="3" height="7.9" fill="#089981"/><rect x="56" y="69.4" width="1" height="10.7" fill="#089981"/><rect x="55" y="75.9" width="3" height="3.4" fill="#089981"/><rect x="59" y="75.3" width="1" height="13.1" fill="#f23645"/><rect x="58" y="75.9" width="3" height="7.2" fill="#f23645"/><rect x="63" y="77.3" width="1" height="7.5" fill="#089981"/><rect x="62" y="79" width="3" height="4.1" fill="#089981"/><rect x="67" y="72.1" width="1" height="11.5" fill="#089981"/><rect x="66" y="77.9" width="3" height="1.1" fill="#089981"/><rect x="70" y="72.5" width="1" height="12.3" fill="#f23645"/><rect x="69" y="77.9" width="3" height="4" fill="#f23645"/><rect x="74" y="80.5" width="1" height="3.1" fill="#f23645"/><rect x="73" y="81.9" width="3" height="1.2" fill="#f23645"/><rect x="78" y="79.6" width="1" height="7.5" fill="#f23645"/><rect x="77" y="83.1" width="3" height="1.1" fill="#f23645"/><rect x="82" y="76.7" width="1" height="9.3" fill="#089981"/><rect x="81" y="83.1" width="3" height="1.1" fill="#089981"/><rect x="85" y="73.8" width="1" height="13.3" fill="#089981"/><rect x="84" y="75" width="3" height="8.1" fill="#089981"/><rect x="89" y="75" width="1" height="8.6" fill="#f23645"/><rect x="88" y="75" width="3" height="4" fill="#f23645"/><rect x="93" y="76.1" width="1" height="8.7" fill="#f23645"/><rect x="92" y="79" width="3" height="2.3" fill="#f23645"/><rect x="97" y="80.2" width="1" height="11.5" fill="#f23645"/><rect x="96" y="81.3" width="3" height="1.8" fill="#f23645"/><rect x="100" y="80.8" width="1" height="3.4" fill="#089981"/><rect x="99" y="81.9" width="3" height="1.2" fill="#089981"/><rect x="104" y="76.1" width="1" height="7" fill="#089981"/><rect x="103" y="76.7" width="3" height="5.2" fill="#089981"/><rect x="108" y="76.1" width="1" height="6.4" fill="#f23645"/><rect x="107" y="76.7" width="3" height="5.2" fill="#f23645"/><rect x="112" y="77.3" width="1" height="7.5" fill="#f23645"/><rect x="111" y="81.9" width="3" height="1" fill="#f23645"/><rect x="115" y="79.6" width="1" height="8.7" fill="#f23645"/><rect x="114" y="82.3" width="3" height="3.7" fill="#f23645"/><rect x="119" y="79" width="1" height="9.8" fill="#f23645"/><rect x="118" y="86" width="3" height="2.6" fill="#f23645"/><rect x="123" y="88.3" width="1" height="9.2" fill="#f23645"/><rect x="122" y="88.6" width="3" height="8.3" fill="#f23645"/><rect x="127" y="94.6" width="1" height="5.8" fill="#f23645"/><rect x="126" y="96.9" width="3" height="2.3" fill="#f23645"/><rect x="130" y="91.1" width="1" height="9.9" fill="#089981"/><rect x="129" y="93.4" width="3" height="5.8" fill="#089981"/><rect x="134" y="88.3" width="1" height="6.3" fill="#089981"/><rect x="133" y="90.6" width="3" height="2.8" fill="#089981"/><rect x="138" y="90.6" width="1" height="6.9" fill="#f23645"/><rect x="137" y="90.6" width="3" height="4" fill="#f23645"/><rect x="142" y="88.3" width="1" height="6.9" fill="#089981"/><rect x="141" y="90.6" width="3" height="4" fill="#089981"/><rect x="145" y="83.1" width="1" height="9.8" fill="#089981"/><rect x="144" y="83.6" width="3" height="7" fill="#089981"/><rect x="149" y="82.5" width="1" height="5.2" fill="#f23645"/><rect x="148" y="83.6" width="3" height="3.5" fill="#f23645"/><rect x="153" y="83.1" width="1" height="5.7" fill="#f23645"/><rect x="152" y="87.1" width="3" height="1.2" fill="#f23645"/><rect x="157" y="77.9" width="1" height="10.9" fill="#089981"/><rect x="156" y="78.5" width="3" height="9.8" fill="#089981"/><rect x="160" y="68.6" width="1" height="12.7" fill="#f23645"/><rect x="159" y="78.5" width="3" height="1.7" fill="#f23645"/><rect x="164" y="73.8" width="1" height="7" fill="#089981"/><rect x="163" y="75" width="3" height="5.2" fill="#089981"/><rect x="168" y="65.2" width="1" height="13.3" fill="#089981"/><rect x="167" y="66.9" width="3" height="8.1" fill="#089981"/><rect x="172" y="62.3" width="1" height="21.3" fill="#f23645"/><rect x="171" y="66.9" width="3" height="14.1" fill="#f23645"/><rect x="175" y="77" width="1" height="6.9" fill="#f23645"/><rect x="174" y="81" width="3" height="1.8" fill="#f23645"/><rect x="179" y="81" width="1" height="2.9" fill="#089981"/><rect x="178" y="81.6" width="3" height="1.2" fill="#089981"/><rect x="183" y="78.7" width="1" height="5.2" fill="#f23645"/><rect x="182" y="81.6" width="3" height="2" fill="#f23645"/><rect x="187" y="82.2" width="1" height="9.8" fill="#f23645"/><rect x="186" y="83.6" width="3" height="3.2" fill="#f23645"/><rect x="190" y="85.6" width="1" height="12.7" fill="#f23645"/><rect x="189" y="86.8" width="3" height="10.9" fill="#f23645"/><rect x="194" y="92.6" width="1" height="6.3" fill="#089981"/><rect x="193" y="93.1" width="3" height="4.6" fill="#089981"/><rect x="198" y="92.6" width="1" height="8" fill="#f23645"/><rect x="197" y="93.1" width="3" height="6.9" fill="#f23645"/><rect x="202" y="83.3" width="1" height="17.3" fill="#089981"/><rect x="201" y="87.4" width="3" height="12.6" fill="#089981"/><rect x="205" y="86.8" width="1" height="7.5" fill="#f23645"/><rect x="204" y="87.4" width="3" height="5.2" fill="#f23645"/><rect x="209" y="91.4" width="1" height="15" fill="#f23645"/><rect x="208" y="92.6" width="3" height="4" fill="#f23645"/><rect x="213" y="95.4" width="1" height="13.3" fill="#f23645"/><rect x="212" y="96.6" width="3" height="11.5" fill="#f23645"/><rect x="216" y="99.5" width="1" height="10.9" fill="#089981"/><rect x="215" y="101.8" width="3" height="6.3" fill="#089981"/><rect x="220" y="98.9" width="1" height="7.5" fill="#f23645"/><rect x="219" y="101.8" width="3" height="1.1" fill="#f23645"/><rect x="224" y="96" width="1" height="8.1" fill="#089981"/><rect x="223" y="98.9" width="3" height="4" fill="#089981"/><rect x="228" y="98.9" width="1" height="15.6" fill="#f23645"/><rect x="227" y="98.9" width="3" height="13.3" fill="#f23645"/><rect x="231" y="109.8" width="1" height="4.7" fill="#089981"/><rect x="230" y="110.4" width="3" height="1.8" fill="#089981"/><rect x="235" y="108.7" width="1" height="4.6" fill="#f23645"/><rect x="234" y="110.4" width="3" height="2.3" fill="#f23645"/><rect x="239" y="107.5" width="1" height="8.1" fill="#089981"/><rect x="238" y="109.3" width="3" height="3.4" fill="#089981"/><rect x="243" y="101.2" width="1" height="11" fill="#089981"/><rect x="242" y="102.9" width="3" height="6.4" fill="#089981"/><rect x="246" y="98.9" width="1" height="6.9" fill="#089981"/><rect x="245" y="101.8" width="3" height="1.1" fill="#089981"/><rect x="250" y="100.1" width="1" height="8.6" fill="#f23645"/><rect x="249" y="101.8" width="3" height="2.9" fill="#f23645"/><rect x="254" y="96" width="1" height="10.4" fill="#f23645"/><rect x="253" y="104.7" width="3" height="1" fill="#f23645"/><rect x="258" y="105.2" width="1" height="2.2" fill="#f23645"/><rect x="257" y="105.2" width="3" height="1.8" fill="#f23645"/><rect x="261" y="101.8" width="1" height="5.7" fill="#089981"/><rect x="260" y="102.9" width="3" height="4.1" fill="#089981"/><rect x="265" y="97.7" width="1" height="6.4" fill="#089981"/><rect x="264" y="100.6" width="3" height="2.3" fill="#089981"/><rect x="269" y="96.6" width="1" height="7.5" fill="#f23645"/><rect x="268" y="100.6" width="3" height="2.3" fill="#f23645"/><rect x="273" y="93.1" width="1" height="10.4" fill="#089981"/><rect x="272" y="94.3" width="3" height="8.6" fill="#089981"/><rect x="276" y="89.1" width="1" height="6.3" fill="#089981"/><rect x="275" y="89.7" width="3" height="4.6" fill="#089981"/><rect x="280" y="85.1" width="1" height="6.9" fill="#089981"/><rect x="279" y="88" width="3" height="1.7" fill="#089981"/><rect x="284" y="86.9" width="1" height="5.1" fill="#f23645"/><rect x="283" y="88" width="3" height="1.2" fill="#f23645"/><rect x="288" y="88" width="1" height="3.5" fill="#f23645"/><rect x="287" y="89.2" width="3" height="1.7" fill="#f23645"/><rect x="291" y="85.1" width="1" height="8.1" fill="#089981"/><rect x="290" y="88.6" width="3" height="2.3" fill="#089981"/><rect x="295" y="84.6" width="1" height="6.9" fill="#089981"/><rect x="294" y="85.1" width="3" height="3.5" fill="#089981"/><rect x="299" y="83.4" width="1" height="8.6" fill="#f23645"/><rect x="298" y="85.1" width="3" height="2.3" fill="#f23645"/><rect x="303" y="81.7" width="1" height="5.7" fill="#089981"/><rect x="302" y="84.2" width="3" height="3.2" fill="#089981"/><rect x="306" y="83.4" width="1" height="6.9" fill="#f23645"/><rect x="305" y="84.2" width="3" height="5" fill="#f23645"/><rect x="310" y="86.9" width="1" height="2.3" fill="#089981"/><rect x="309" y="88" width="3" height="1.2" fill="#089981"/><rect x="314" y="88" width="1" height="2.9" fill="#f23645"/><rect x="313" y="88" width="3" height="2.7" fill="#f23645"/><rect x="318" y="89.7" width="1" height="10.4" fill="#f23645"/><rect x="317" y="90.7" width="3" height="8.3" fill="#f23645"/><rect x="321" y="96.7" width="1" height="5.2" fill="#f23645"/><rect x="320" y="99" width="3" height="2.3" fill="#f23645"/><rect x="325" y="94.4" width="1" height="8" fill="#089981"/><rect x="324" y="96.1" width="3" height="5.2" fill="#089981"/><rect x="329" y="95.5" width="1" height="15.6" fill="#f23645"/><rect x="328" y="96.1" width="3" height="14.4" fill="#f23645"/><rect x="333" y="105.9" width="1" height="5.2" fill="#089981"/><rect x="332" y="108.2" width="3" height="2.3" fill="#089981"/><rect x="336" y="107" width="1" height="3.5" fill="#089981"/><rect x="335" y="107.6" width="3" height="1" fill="#089981"/><rect x="340" y="99.5" width="1" height="9.3" fill="#089981"/><rect x="339" y="100.1" width="3" height="7.5" fill="#089981"/><rect x="344" y="92.6" width="1" height="8.7" fill="#089981"/><rect x="343" y="93.2" width="3" height="6.9" fill="#089981"/><rect x="348" y="90.9" width="1" height="7.5" fill="#f23645"/><rect x="347" y="93.2" width="3" height="1.7" fill="#f23645"/><rect x="351" y="79.4" width="1" height="16.1" fill="#089981"/><rect x="350" y="79.9" width="3" height="15" fill="#089981"/><rect x="355" y="71.9" width="1" height="9.2" fill="#089981"/><rect x="354" y="73.6" width="3" height="6.3" fill="#089981"/><rect x="359" y="63.2" width="1" height="14.4" fill="#089981"/><rect x="358" y="68.4" width="3" height="5.2" fill="#089981"/><rect x="362" y="65.5" width="1" height="6.4" fill="#f23645"/><rect x="361" y="68.4" width="3" height="1" fill="#f23645"/><rect x="366" y="59.2" width="1" height="10.9" fill="#089981"/><rect x="365" y="65.5" width="3" height="3.5" fill="#089981"/><rect x="370" y="56.3" width="1" height="10.4" fill="#089981"/><rect x="369" y="60.9" width="3" height="4.6" fill="#089981"/><rect x="374" y="59.2" width="1" height="13.8" fill="#f23645"/><rect x="373" y="60.9" width="3" height="11" fill="#f23645"/><rect x="377" y="62.1" width="1" height="9.8" fill="#089981"/><rect x="376" y="64.4" width="3" height="7.5" fill="#089981"/><rect x="381" y="62.6" width="1" height="13.3" fill="#f23645"/><rect x="380" y="64.4" width="3" height="5.2" fill="#f23645"/><rect x="385" y="67.3" width="1" height="47.7" fill="#f23645"/><rect x="384" y="69.6" width="3" height="22.9" fill="#f23645"/><rect x="389" y="90.8" width="1" height="13.2" fill="#f23645"/><rect x="388" y="92.5" width="3" height="7.5" fill="#f23645"/><rect x="392" y="86.1" width="1" height="17.3" fill="#089981"/><rect x="391" y="90.2" width="3" height="9.8" fill="#089981"/><rect x="396" y="86.7" width="1" height="8.1" fill="#089981"/><rect x="395" y="89.6" width="3" height="1" fill="#089981"/><rect x="400" y="89" width="1" height="17.9" fill="#f23645"/><rect x="399" y="89.6" width="3" height="8.1" fill="#f23645"/><rect x="404" y="95.4" width="1" height="10.4" fill="#f23645"/><rect x="403" y="97.7" width="3" height="7.5" fill="#f23645"/><rect x="407" y="100.6" width="1" height="14.9" fill="#f23645"/><rect x="406" y="105.2" width="3" height="8" fill="#f23645"/><rect x="411" y="109.8" width="1" height="17.9" fill="#f23645"/><rect x="410" y="113.2" width="3" height="5.2" fill="#f23645"/><rect x="415" y="115.5" width="1" height="3.5" fill="#089981"/><rect x="414" y="116.1" width="3" height="2.3" fill="#089981"/><rect x="419" y="108" width="1" height="10.4" fill="#089981"/><rect x="418" y="110.9" width="3" height="5.2" fill="#089981"/><rect x="422" y="101.1" width="1" height="13.3" fill="#089981"/><rect x="421" y="105.2" width="3" height="5.7" fill="#089981"/><rect x="426" y="94.2" width="1" height="20.8" fill="#f23645"/><rect x="425" y="105.2" width="3" height="7.5" fill="#f23645"/><rect x="430" y="109.8" width="1" height="8.1" fill="#f23645"/><rect x="429" y="112.7" width="3" height="2.3" fill="#f23645"/><rect x="434" y="102.9" width="1" height="12.6" fill="#089981"/><rect x="433" y="106.9" width="3" height="8.1" fill="#089981"/><rect x="437" y="100" width="1" height="8.1" fill="#089981"/><rect x="436" y="104" width="3" height="2.9" fill="#089981"/><rect x="441" y="101.1" width="1" height="3.5" fill="#089981"/><rect x="440" y="102.3" width="3" height="1.7" fill="#089981"/><rect x="445" y="90.2" width="1" height="13.2" fill="#089981"/><rect x="444" y="92.5" width="3" height="9.8" fill="#089981"/><rect x="449" y="86.7" width="1" height="11" fill="#f23645"/><rect x="448" y="92.5" width="3" height="2.3" fill="#f23645"/><rect x="452" y="87.3" width="1" height="12.7" fill="#f23645"/><rect x="451" y="94.8" width="3" height="3.5" fill="#f23645"/><rect x="456" y="95.4" width="1" height="13.2" fill="#f23645"/><rect x="455" y="98.3" width="3" height="9.2" fill="#f23645"/><rect x="460" y="101.7" width="1" height="16.7" fill="#f23645"/><rect x="459" y="107.5" width="3" height="5.2" fill="#f23645"/><rect x="464" y="103.4" width="1" height="9.8" fill="#089981"/><rect x="463" y="109.2" width="3" height="3.5" fill="#089981"/><rect x="467" y="105.7" width="1" height="3.5" fill="#089981"/><rect x="466" y="106.9" width="3" height="2.3" fill="#089981"/><rect x="471" y="104" width="1" height="4.6" fill="#089981"/><rect x="470" y="105.7" width="3" height="1.2" fill="#089981"/><rect x="475" y="105.2" width="1" height="15.5" fill="#f23645"/><rect x="474" y="105.7" width="3" height="12.8" fill="#f23645"/><rect x="479" y="116.2" width="1" height="27.1" fill="#f23645"/><rect x="478" y="118.5" width="3" height="16.1" fill="#f23645"/><rect x="482" y="124.2" width="1" height="17.9" fill="#089981"/><rect x="481" y="127.1" width="3" height="7.5" fill="#089981"/><rect x="486" y="125.4" width="1" height="12.7" fill="#f23645"/><rect x="485" y="127.1" width="3" height="8.1" fill="#f23645"/><rect x="490" y="126" width="1" height="15.5" fill="#089981"/><rect x="489" y="128.3" width="3" height="6.9" fill="#089981"/><rect x="493" y="127.7" width="1" height="6.9" fill="#f23645"/><rect x="492" y="128.3" width="3" height="4.6" fill="#f23645"/><rect x="497" y="121.3" width="1" height="13.3" fill="#089981"/><rect x="496" y="124.2" width="3" height="8.7" fill="#089981"/><rect x="501" y="117.9" width="1" height="6.9" fill="#089981"/><rect x="500" y="119.6" width="3" height="4.6" fill="#089981"/><rect x="505" y="115" width="1" height="16.2" fill="#f23645"/><rect x="504" y="119.6" width="3" height="11" fill="#f23645"/><rect x="508" y="121.3" width="1" height="15.6" fill="#f23645"/><rect x="507" y="130.6" width="3" height="3.4" fill="#f23645"/><rect x="512" y="126" width="1" height="19.6" fill="#f23645"/><rect x="511" y="134" width="3" height="6.4" fill="#f23645"/><rect x="516" y="139.2" width="1" height="19.5" fill="#f23645"/><rect x="515" y="140.4" width="3" height="16.6" fill="#f23645"/><rect x="520" y="149.5" width="1" height="9.2" fill="#089981"/><rect x="519" y="153" width="3" height="4" fill="#089981"/><rect x="523" y="150.1" width="1" height="11.5" fill="#f23645"/><rect x="522" y="153" width="3" height="5.7" fill="#f23645"/><rect x="527" y="152" width="1" height="15" fill="#f23645"/><rect x="526" y="158.7" width="3" height="6" fill="#f23645"/><rect x="531" y="159" width="1" height="14.4" fill="#089981"/><rect x="530" y="161.3" width="3" height="3.4" fill="#089981"/><rect x="535" y="160.7" width="1" height="15" fill="#f23645"/><rect x="534" y="161.3" width="3" height="5.2" fill="#f23645"/><rect x="538" y="161.3" width="1" height="22.5" fill="#f23645"/><rect x="537" y="166.5" width="3" height="16.7" fill="#f23645"/><rect x="542" y="179.1" width="1" height="22.5" fill="#f23645"/><rect x="541" y="183.2" width="3" height="4" fill="#f23645"/><rect x="546" y="185.5" width="1" height="6.3" fill="#f23645"/><rect x="545" y="187.2" width="3" height="1" fill="#f23645"/><rect x="550" y="176.3" width="1" height="12.6" fill="#089981"/><rect x="549" y="180.9" width="3" height="7.1" fill="#089981"/><rect x="553" y="173.4" width="1" height="12.1" fill="#089981"/><rect x="552" y="176.3" width="3" height="4.6" fill="#089981"/><rect x="557" y="175.7" width="1" height="6.9" fill="#f23645"/><rect x="556" y="176.3" width="3" height="4" fill="#f23645"/><rect x="561" y="168.8" width="1" height="13.8" fill="#089981"/><rect x="560" y="169.3" width="3" height="11" fill="#089981"/><rect x="565" y="164.1" width="1" height="6.4" fill="#089981"/><rect x="564" y="166.5" width="3" height="2.8" fill="#089981"/><rect x="568" y="161.3" width="1" height="8.6" fill="#f23645"/><rect x="567" y="166.5" width="3" height="2.3" fill="#f23645"/><rect x="572" y="167" width="1" height="2.9" fill="#f23645"/><rect x="571" y="168.8" width="3" height="1" fill="#f23645"/><rect x="576" y="164.7" width="1" height="5.8" fill="#f23645"/><rect x="575" y="169.2" width="3" height="1" fill="#f23645"/><rect x="580" y="168.8" width="1" height="22.5" fill="#f23645"/><rect x="579" y="169.9" width="3" height="12.7" fill="#f23645"/><rect x="583" y="164.1" width="1" height="19.1" fill="#089981"/><rect x="582" y="166.5" width="3" height="16.1" fill="#089981"/><rect x="587" y="157.2" width="1" height="11" fill="#089981"/><rect x="586" y="159.5" width="3" height="7" fill="#089981"/><rect x="591" y="148" width="1" height="19" fill="#f23645"/><rect x="590" y="159.5" width="3" height="4.1" fill="#f23645"/><rect x="595" y="163" width="1" height="13.8" fill="#f23645"/><rect x="594" y="163.6" width="3" height="9.8" fill="#f23645"/><rect x="598" y="171" width="1" height="3" fill="#089981"/><rect x="597" y="171.6" width="3" height="1.8" fill="#089981"/><rect x="602" y="166.5" width="1" height="10.9" fill="#089981"/><rect x="601" y="169.9" width="3" height="1.7" fill="#089981"/><rect x="606" y="164.1" width="1" height="6.9" fill="#089981"/><rect x="605" y="168.8" width="3" height="1.1" fill="#089981"/><rect x="610" y="152.6" width="1" height="19.6" fill="#089981"/><rect x="609" y="161.8" width="3" height="7" fill="#089981"/><rect x="613" y="156.7" width="1" height="8.6" fill="#f23645"/><rect x="612" y="161.8" width="3" height="2.9" fill="#f23645"/><rect x="617" y="159.8" width="1" height="12.7" fill="#089981"/><rect x="616" y="162.7" width="3" height="2" fill="#089981"/><rect x="621" y="162.2" width="1" height="9.8" fill="#f23645"/><rect x="620" y="162.7" width="3" height="8.1" fill="#f23645"/><rect x="625" y="169.1" width="1" height="2.3" fill="#f23645"/><rect x="624" y="170.8" width="3" height="1" fill="#f23645"/><rect x="628" y="169.6" width="1" height="8.7" fill="#f23645"/><rect x="627" y="171.2" width="3" height="6.5" fill="#f23645"/><rect x="632" y="170.8" width="1" height="15" fill="#f23645"/><rect x="631" y="177.7" width="3" height="5.2" fill="#f23645"/><rect x="636" y="177.1" width="1" height="8.7" fill="#089981"/><rect x="635" y="177.7" width="3" height="5.2" fill="#089981"/><rect x="639" y="170.2" width="1" height="15" fill="#f23645"/><rect x="638" y="177.7" width="3" height="6.4" fill="#f23645"/><rect x="643" y="173.1" width="1" height="15" fill="#f23645"/><rect x="642" y="184.1" width="3" height="1.7" fill="#f23645"/><rect x="647" y="173.1" width="1" height="13.3" fill="#089981"/><rect x="646" y="177.1" width="3" height="8.7" fill="#089981"/><rect x="651" y="175.4" width="1" height="3.5" fill="#089981"/><rect x="650" y="176.2" width="3" height="1" fill="#089981"/><rect x="654" y="174.3" width="1" height="4.6" fill="#089981"/><rect x="653" y="176" width="3" height="1" fill="#089981"/><rect x="658" y="169.6" width="1" height="8.1" fill="#f23645"/><rect x="657" y="176" width="3" height="1" fill="#f23645"/><rect x="662" y="174.8" width="1" height="6.4" fill="#f23645"/><rect x="661" y="176.9" width="3" height="3.7" fill="#f23645"/><rect x="666" y="177.1" width="1" height="4.7" fill="#089981"/><rect x="665" y="178.3" width="3" height="2.3" fill="#089981"/><rect x="669" y="176" width="1" height="5.2" fill="#f23645"/><rect x="668" y="178.3" width="3" height="2.3" fill="#f23645"/><rect x="673" y="173.1" width="1" height="8.1" fill="#089981"/><rect x="672" y="180" width="3" height="1" fill="#089981"/><rect x="677" y="177.7" width="1" height="2.9" fill="#089981"/><rect x="676" y="178.3" width="3" height="1.7" fill="#089981"/><rect x="681" y="177.7" width="1" height="1.8" fill="#f23645"/><rect x="680" y="178.3" width="3" height="1" fill="#f23645"/><rect x="684" y="170.2" width="1" height="11" fill="#f23645"/><rect x="683" y="178.9" width="3" height="1.7" fill="#f23645"/><rect x="688" y="173.7" width="1" height="7.5" fill="#089981"/><rect x="687" y="176.2" width="3" height="4.4" fill="#089981"/><rect x="692" y="174.3" width="1" height="9.2" fill="#f23645"/><rect x="691" y="176.2" width="3" height="3.2" fill="#f23645"/><rect x="696" y="174.8" width="1" height="4.7" fill="#089981"/><rect x="695" y="175.4" width="3" height="4" fill="#089981"/><rect x="699" y="168.5" width="1" height="8.1" fill="#089981"/><rect x="698" y="171.4" width="3" height="4" fill="#089981"/><rect x="703" y="168.5" width="1" height="4" fill="#089981"/><rect x="702" y="169.1" width="3" height="2.3" fill="#089981"/><rect x="707" y="165.6" width="1" height="4" fill="#089981"/><rect x="706" y="166.2" width="3" height="2.9" fill="#089981"/><rect x="711" y="154.7" width="1" height="12.6" fill="#089981"/><rect x="710" y="159.1" width="3" height="7.1" fill="#089981"/><rect x="714" y="156.2" width="1" height="10.9" fill="#f23645"/><rect x="713" y="159.1" width="3" height="2.9" fill="#f23645"/><rect x="718" y="158.5" width="1" height="10.4" fill="#f23645"/><rect x="717" y="162" width="3" height="5.7" fill="#f23645"/><rect x="722" y="166" width="1" height="7.5" fill="#f23645"/><rect x="721" y="167.7" width="3" height="1.2" fill="#f23645"/><rect x="726" y="164.3" width="1" height="8.6" fill="#f23645"/><rect x="725" y="168.9" width="3" height="1" fill="#f23645"/><rect x="729" y="168.9" width="1" height="1.7" fill="#f23645"/><rect x="728" y="169.4" width="3" height="1" fill="#f23645"/><rect x="733" y="167.1" width="1" height="3.5" fill="#089981"/><rect x="732" y="168.3" width="3" height="1.7" fill="#089981"/><rect x="737" y="163.1" width="1" height="6.9" fill="#089981"/><rect x="736" y="166.6" width="3" height="1.7" fill="#089981"/><rect x="741" y="150.4" width="1" height="17.9" fill="#089981"/><rect x="740" y="153.3" width="3" height="13.3" fill="#089981"/><rect x="744" y="145.2" width="1" height="11" fill="#089981"/><rect x="743" y="148.7" width="3" height="4.6" fill="#089981"/><rect x="748" y="148.7" width="1" height="6.3" fill="#f23645"/><rect x="747" y="148.7" width="3" height="5.2" fill="#f23645"/><rect x="752" y="152.1" width="1" height="5.2" fill="#f23645"/><rect x="751" y="153.9" width="3" height="1" fill="#f23645"/><rect x="756" y="153.3" width="1" height="1.8" fill="#f23645"/><rect x="755" y="154.3" width="3" height="1" fill="#f23645"/><rect x="759" y="152.1" width="1" height="8.1" fill="#f23645"/><rect x="758" y="154.5" width="3" height="5.1" fill="#f23645"/><rect x="763" y="159.1" width="1" height="5.7" fill="#f23645"/><rect x="762" y="159.6" width="3" height="4.1" fill="#f23645"/><rect x="767" y="162" width="1" height="16.1" fill="#f23645"/><rect x="766" y="163.7" width="3" height="13.3" fill="#f23645"/><rect x="771" y="169.4" width="1" height="10.4" fill="#089981"/><rect x="770" y="172.9" width="3" height="4.1" fill="#089981"/><rect x="774" y="170" width="1" height="5.8" fill="#f23645"/><rect x="773" y="172.9" width="3" height="1.7" fill="#f23645"/><rect x="778" y="167.1" width="1" height="8.7" fill="#089981"/><rect x="777" y="171.8" width="3" height="2.8" fill="#089981"/><rect x="782" y="171.8" width="1" height="2.3" fill="#f23645"/><rect x="781" y="171.8" width="3" height="1.7" fill="#f23645"/><rect x="785" y="172.9" width="1" height="10.4" fill="#f23645"/><rect x="784" y="173.5" width="3" height="9.2" fill="#f23645"/><rect x="789" y="174.6" width="1" height="8.7" fill="#089981"/><rect x="788" y="175.8" width="3" height="6.9" fill="#089981"/><rect x="793" y="172.9" width="1" height="6.9" fill="#089981"/><rect x="792" y="173.5" width="3" height="2.3" fill="#089981"/><rect x="797" y="169.4" width="1" height="6.4" fill="#089981"/><rect x="796" y="172.3" width="3" height="1.2" fill="#089981"/><rect x="800" y="172.9" width="1" height="19.2" fill="#f23645"/><rect x="799" y="172.3" width="3" height="16.4" fill="#f23645"/><rect x="804" y="187.5" width="1" height="12.7" fill="#f23645"/><rect x="803" y="188.7" width="3" height="1.1" fill="#f23645"/><rect x="808" y="188.7" width="1" height="28.3" fill="#f23645"/><rect x="807" y="189.8" width="3" height="17.9" fill="#f23645"/><rect x="812" y="205.4" width="1" height="11.6" fill="#f23645"/><rect x="811" y="207.7" width="3" height="5.2" fill="#f23645"/><rect x="815" y="205.4" width="1" height="14.5" fill="#089981"/><rect x="814" y="206.6" width="3" height="6.3" fill="#089981"/><rect x="819" y="205.4" width="1" height="20.2" fill="#f23645"/><rect x="818" y="206.6" width="3" height="10.9" fill="#f23645"/><rect x="823" y="213.2" width="1" height="16.1" fill="#f23645"/><rect x="822" y="217.5" width="3" height="8.3" fill="#f23645"/><rect x="827" y="224.7" width="1" height="35.2" fill="#f23645"/><rect x="826" y="225.8" width="3" height="33.5" fill="#f23645"/><rect x="830" y="229.3" width="1" height="37.5" fill="#089981"/><rect x="829" y="233.3" width="3" height="26" fill="#089981"/><rect x="834" y="229.3" width="1" height="14.4" fill="#f23645"/><rect x="833" y="233.3" width="3" height="4.6" fill="#f23645"/><rect x="838" y="228.1" width="1" height="10.4" fill="#089981"/><rect x="837" y="233.9" width="3" height="4" fill="#089981"/><rect x="842" y="231" width="1" height="9.2" fill="#f23645"/><rect x="841" y="233.9" width="3" height="1.2" fill="#f23645"/><rect x="845" y="233.3" width="1" height="6.9" fill="#f23645"/><rect x="844" y="235.1" width="3" height="4" fill="#f23645"/><rect x="849" y="237.4" width="1" height="10.3" fill="#f23645"/><rect x="848" y="239.1" width="3" height="5.8" fill="#f23645"/><rect x="853" y="240.2" width="1" height="10.4" fill="#f23645"/><rect x="852" y="244.9" width="3" height="2.8" fill="#f23645"/><rect x="857" y="236.8" width="1" height="11.5" fill="#089981"/><rect x="856" y="237.9" width="3" height="9.8" fill="#089981"/><rect x="860" y="232.8" width="1" height="6.9" fill="#089981"/><rect x="859" y="235.6" width="3" height="2.3" fill="#089981"/><rect x="864" y="232.2" width="1" height="9.2" fill="#f23645"/><rect x="863" y="235.6" width="3" height="2.9" fill="#f23645"/><rect x="868" y="234.5" width="1" height="9.2" fill="#089981"/><rect x="867" y="237.9" width="3" height="1" fill="#089981"/><rect x="872" y="236.8" width="1" height="9.2" fill="#f23645"/><rect x="871" y="237.9" width="3" height="5.8" fill="#f23645"/><rect x="875" y="239.7" width="1" height="8" fill="#f23645"/><rect x="874" y="243.7" width="3" height="3.5" fill="#f23645"/><rect x="879" y="243.7" width="1" height="4.6" fill="#089981"/><rect x="878" y="244.9" width="3" height="2.3" fill="#089981"/><rect x="883" y="240.2" width="1" height="6.4" fill="#089981"/><rect x="882" y="240.8" width="3" height="4.1" fill="#089981"/><rect x="887" y="239.1" width="1" height="4" fill="#f23645"/><rect x="886" y="240.8" width="3" height="1.4" fill="#f23645"/><rect x="890" y="240.2" width="1" height="3.5" fill="#f23645"/><rect x="889" y="242.2" width="3" height="1" fill="#f23645"/><rect x="894" y="242" width="1" height="12.7" fill="#f23645"/><rect x="893" y="243.1" width="3" height="9.8" fill="#f23645"/><rect x="898" y="250.6" width="1" height="8.1" fill="#f23645"/><rect x="897" y="252.9" width="3" height="1.2" fill="#f23645"/><rect x="902" y="234.5" width="1" height="20.2" fill="#089981"/><rect x="901" y="241.4" width="3" height="12.7" fill="#089981"/><rect x="905" y="238.5" width="1" height="6.4" fill="#f23645"/><rect x="904" y="241.4" width="3" height="2.3" fill="#f23645"/><rect x="909" y="239.7" width="1" height="9.2" fill="#f23645"/><rect x="908" y="243.7" width="3" height="4.1" fill="#f23645"/></g><g clip-path="url(#cp2)"><line x1="9" y1="346.5" x2="948" y2="346.5" stroke="#5d606b" stroke-width="1" stroke-dasharray="4 4" stroke-opacity="0.45"/><rect x="8.73" y="343.21" width="2.74" height="2.99" fill="#26a69a"/><rect x="12.47" y="342.16" width="2.74" height="4.04" fill="#26a69a"/><rect x="16.21" y="343.13" width="2.74" height="3.07" fill="#b2dfdb"/><rect x="19.96" y="343.5" width="2.74" height="2.7" fill="#b2dfdb"/><rect x="23.7" y="343.32" width="2.74" height="2.88" fill="#26a69a"/><rect x="27.45" y="344.26" width="2.74" height="1.94" fill="#b2dfdb"/><rect x="31.19" y="344.35" width="2.74" height="1.85" fill="#b2dfdb"/><rect x="34.93" y="343.02" width="2.74" height="3.18" fill="#26a69a"/><rect x="38.68" y="339.71" width="2.74" height="6.49" fill="#26a69a"/><rect x="42.42" y="336.71" width="2.74" height="9.49" fill="#26a69a"/><rect x="46.16" y="335.91" width="2.74" height="10.29" fill="#26a69a"/><rect x="49.91" y="334.28" width="2.74" height="11.92" fill="#26a69a"/><rect x="53.65" y="333.29" width="2.74" height="12.91" fill="#26a69a"/><rect x="57.39" y="335.2" width="2.74" height="11" fill="#b2dfdb"/><rect x="61.14" y="336.27" width="2.74" height="9.93" fill="#b2dfdb"/><rect x="64.88" y="337.46" width="2.74" height="8.74" fill="#b2dfdb"/><rect x="68.62" y="339.87" width="2.74" height="6.33" fill="#b2dfdb"/><rect x="72.37" y="342.27" width="2.74" height="3.93" fill="#b2dfdb"/><rect x="76.11" y="344.53" width="2.74" height="1.67" fill="#b2dfdb"/><rect x="79.85" y="346.09" width="2.74" height="1.2" fill="#b2dfdb"/><rect x="83.6" y="345.51" width="2.74" height="1.2" fill="#26a69a"/><rect x="87.34" y="346.2" width="2.74" height="1.2" fill="#ff5252"/><rect x="91.08" y="346.2" width="2.74" height="1.6" fill="#ff5252"/><rect x="94.83" y="346.2" width="2.74" height="3.1" fill="#ff5252"/><rect x="98.57" y="346.2" width="2.74" height="3.89" fill="#ff5252"/><rect x="102.31" y="346.2" width="2.74" height="3.27" fill="#ffcdd2"/><rect x="106.06" y="346.2" width="2.74" height="4.19" fill="#ff5252"/><rect x="109.8" y="346.2" width="2.74" height="4.9" fill="#ff5252"/><rect x="113.54" y="346.2" width="2.74" height="6.2" fill="#ff5252"/><rect x="117.29" y="346.2" width="2.74" height="7.53" fill="#ff5252"/><rect x="121.03" y="346.2" width="2.74" height="10.1" fill="#ff5252"/><rect x="124.77" y="346.2" width="2.74" height="11.91" fill="#ff5252"/><rect x="128.52" y="346.2" width="2.74" height="11.26" fill="#ffcdd2"/><rect x="132.26" y="346.2" width="2.74" height="9.77" fill="#ffcdd2"/><rect x="136" y="346.2" width="2.74" height="9.37" fill="#ffcdd2"/><rect x="139.75" y="346.2" width="2.74" height="7.82" fill="#ffcdd2"/><rect x="143.49" y="346.2" width="2.74" height="4.92" fill="#ffcdd2"/><rect x="147.23" y="346.2" width="2.74" height="3.72" fill="#ffcdd2"/><rect x="150.98" y="346.2" width="2.74" height="3.12" fill="#ffcdd2"/><rect x="154.72" y="346.2" width="2.74" height="1.2" fill="#ffcdd2"/><rect x="158.46" y="345.31" width="2.74" height="1.2" fill="#26a69a"/><rect x="162.21" y="343.42" width="2.74" height="2.78" fill="#26a69a"/><rect x="165.95" y="340.59" width="2.74" height="5.61" fill="#26a69a"/><rect x="169.69" y="342.43" width="2.74" height="3.77" fill="#b2dfdb"/><rect x="173.44" y="344.28" width="2.74" height="1.92" fill="#b2dfdb"/><rect x="177.18" y="345.37" width="2.74" height="1.2" fill="#b2dfdb"/><rect x="180.92" y="346.2" width="2.74" height="1.2" fill="#ff5252"/><rect x="184.67" y="346.2" width="2.74" height="2.05" fill="#ff5252"/><rect x="188.41" y="346.2" width="2.74" height="5.55" fill="#ff5252"/><rect x="192.15" y="346.2" width="2.74" height="6.47" fill="#ff5252"/><rect x="195.9" y="346.2" width="2.74" height="8.36" fill="#ff5252"/><rect x="199.64" y="346.2" width="2.74" height="6.25" fill="#ffcdd2"/><rect x="203.38" y="346.2" width="2.74" height="5.83" fill="#ffcdd2"/><rect x="207.13" y="346.2" width="2.74" height="6.19" fill="#ff5252"/><rect x="210.87" y="346.2" width="2.74" height="8.74" fill="#ff5252"/><rect x="214.62" y="346.2" width="2.74" height="8.42" fill="#ffcdd2"/><rect x="218.36" y="346.2" width="2.74" height="7.99" fill="#ffcdd2"/><rect x="222.1" y="346.2" width="2.74" height="6.33" fill="#ffcdd2"/><rect x="225.85" y="346.2" width="2.74" height="7.94" fill="#ff5252"/><rect x="229.59" y="346.2" width="2.74" height="8.03" fill="#ff5252"/><rect x="233.33" y="346.2" width="2.74" height="8.1" fill="#ff5252"/><rect x="237.08" y="346.2" width="2.74" height="6.8" fill="#ffcdd2"/><rect x="240.82" y="346.2" width="2.74" height="4.03" fill="#ffcdd2"/><rect x="244.56" y="346.2" width="2.74" height="1.68" fill="#ffcdd2"/><rect x="248.31" y="346.2" width="2.74" height="1.2" fill="#ffcdd2"/><rect x="252.05" y="346.1" width="2.74" height="1.2" fill="#26a69a"/><rect x="255.79" y="345.91" width="2.74" height="1.2" fill="#26a69a"/><rect x="259.54" y="344.71" width="2.74" height="1.49" fill="#26a69a"/><rect x="263.28" y="343.36" width="2.74" height="2.84" fill="#26a69a"/><rect x="267.02" y="343.04" width="2.74" height="3.16" fill="#26a69a"/><rect x="270.77" y="340.9" width="2.74" height="5.3" fill="#26a69a"/><rect x="274.51" y="338.65" width="2.74" height="7.55" fill="#26a69a"/><rect x="278.25" y="337.15" width="2.74" height="9.05" fill="#26a69a"/><rect x="282" y="336.86" width="2.74" height="9.34" fill="#26a69a"/><rect x="285.74" y="337.5" width="2.74" height="8.7" fill="#b2dfdb"/><rect x="289.48" y="337.79" width="2.74" height="8.41" fill="#b2dfdb"/><rect x="293.23" y="337.57" width="2.74" height="8.63" fill="#26a69a"/><rect x="296.97" y="338.42" width="2.74" height="7.78" fill="#b2dfdb"/><rect x="300.71" y="338.63" width="2.74" height="7.57" fill="#b2dfdb"/><rect x="304.46" y="340.34" width="2.74" height="5.86" fill="#b2dfdb"/><rect x="308.2" y="341.48" width="2.74" height="4.72" fill="#b2dfdb"/><rect x="311.94" y="343.12" width="2.74" height="3.08" fill="#b2dfdb"/><rect x="315.69" y="346.2" width="2.74" height="1.2" fill="#ff5252"/><rect x="319.43" y="346.2" width="2.74" height="2.64" fill="#ff5252"/><rect x="323.17" y="346.2" width="2.74" height="2.96" fill="#ff5252"/><rect x="326.92" y="346.2" width="2.74" height="6.37" fill="#ff5252"/><rect x="330.66" y="346.2" width="2.74" height="7.67" fill="#ff5252"/><rect x="334.4" y="346.2" width="2.74" height="7.97" fill="#ff5252"/><rect x="338.15" y="346.2" width="2.74" height="6.01" fill="#ffcdd2"/><rect x="341.89" y="346.2" width="2.74" height="2.86" fill="#ffcdd2"/><rect x="345.63" y="346.2" width="2.74" height="1.2" fill="#ffcdd2"/><rect x="349.38" y="342.68" width="2.74" height="3.52" fill="#26a69a"/><rect x="353.12" y="338.49" width="2.74" height="7.71" fill="#26a69a"/><rect x="356.86" y="335.08" width="2.74" height="11.12" fill="#26a69a"/><rect x="360.61" y="333.69" width="2.74" height="12.51" fill="#26a69a"/><rect x="364.35" y="332.72" width="2.74" height="13.48" fill="#26a69a"/><rect x="368.09" y="331.85" width="2.74" height="14.35" fill="#26a69a"/><rect x="371.84" y="334.7" width="2.74" height="11.5" fill="#b2dfdb"/><rect x="375.58" y="335.51" width="2.74" height="10.69" fill="#b2dfdb"/><rect x="379.32" y="337.94" width="2.74" height="8.26" fill="#b2dfdb"/><rect x="383.07" y="345.34" width="2.74" height="1.2" fill="#b2dfdb"/><rect x="386.81" y="346.2" width="2.74" height="5.74" fill="#ff5252"/><rect x="390.55" y="346.2" width="2.74" height="7.5" fill="#ff5252"/><rect x="394.3" y="346.2" width="2.74" height="8.23" fill="#ff5252"/><rect x="398.04" y="346.2" width="2.74" height="10.25" fill="#ff5252"/><rect x="401.78" y="346.2" width="2.74" height="12.83" fill="#ff5252"/><rect x="405.53" y="346.2" width="2.74" height="15.69" fill="#ff5252"/><rect x="409.27" y="346.2" width="2.74" height="17.91" fill="#ff5252"/><rect x="413.02" y="346.2" width="2.74" height="17.84" fill="#ffcdd2"/><rect x="416.76" y="346.2" width="2.74" height="15.64" fill="#ffcdd2"/><rect x="420.5" y="346.2" width="2.74" height="12.07" fill="#ffcdd2"/><rect x="424.25" y="346.2" width="2.74" height="10.82" fill="#ffcdd2"/><rect x="427.99" y="346.2" width="2.74" height="9.89" fill="#ffcdd2"/><rect x="431.73" y="346.2" width="2.74" height="6.78" fill="#ffcdd2"/><rect x="435.48" y="346.2" width="2.74" height="3.65" fill="#ffcdd2"/><rect x="439.22" y="346.2" width="2.74" height="1.2" fill="#ffcdd2"/><rect x="442.96" y="342.99" width="2.74" height="3.21" fill="#26a69a"/><rect x="446.71" y="340.91" width="2.74" height="5.29" fill="#26a69a"/><rect x="450.45" y="340.55" width="2.74" height="5.65" fill="#26a69a"/><rect x="454.19" y="342.6" width="2.74" height="3.6" fill="#b2dfdb"/><rect x="457.94" y="345.14" width="2.74" height="1.2" fill="#b2dfdb"/><rect x="461.68" y="345.86" width="2.74" height="1.2" fill="#b2dfdb"/><rect x="465.42" y="345.68" width="2.74" height="1.2" fill="#26a69a"/><rect x="469.17" y="345.19" width="2.74" height="1.2" fill="#26a69a"/><rect x="472.91" y="346.2" width="2.74" height="1.56" fill="#ff5252"/><rect x="476.65" y="346.2" width="2.74" height="6.67" fill="#ff5252"/><rect x="480.4" y="346.2" width="2.74" height="7.66" fill="#ff5252"/><rect x="484.14" y="346.2" width="2.74" height="9.58" fill="#ff5252"/><rect x="487.88" y="346.2" width="2.74" height="8.52" fill="#ffcdd2"/><rect x="491.63" y="346.2" width="2.74" height="8.27" fill="#ffcdd2"/><rect x="495.37" y="346.2" width="2.74" height="5.47" fill="#ffcdd2"/><rect x="499.11" y="346.2" width="2.74" height="2.14" fill="#ffcdd2"/><rect x="502.86" y="346.2" width="2.74" height="2.23" fill="#ff5252"/><rect x="506.6" y="346.2" width="2.74" height="2.72" fill="#ff5252"/><rect x="510.34" y="346.2" width="2.74" height="4.11" fill="#ff5252"/><rect x="514.09" y="346.2" width="2.74" height="8.32" fill="#ff5252"/><rect x="517.83" y="346.2" width="2.74" height="9.33" fill="#ff5252"/><rect x="521.57" y="346.2" width="2.74" height="10.5" fill="#ff5252"/><rect x="525.32" y="346.2" width="2.74" height="11.73" fill="#ff5252"/><rect x="529.06" y="346.2" width="2.74" height="10.77" fill="#ffcdd2"/><rect x="532.8" y="346.2" width="2.74" height="10.43" fill="#ffcdd2"/><rect x="536.55" y="346.2" width="2.74" height="13.11" fill="#ff5252"/><rect x="540.29" y="346.2" width="2.74" height="14.6" fill="#ff5252"/><rect x="544.03" y="346.2" width="2.74" height="14.49" fill="#ffcdd2"/><rect x="547.78" y="346.2" width="2.74" height="11.55" fill="#ffcdd2"/><rect x="551.52" y="346.2" width="2.74" height="7.53" fill="#ffcdd2"/><rect x="555.26" y="346.2" width="2.74" height="5" fill="#ffcdd2"/><rect x="559.01" y="346.2" width="2.74" height="1.2" fill="#ffcdd2"/><rect x="562.75" y="342" width="2.74" height="4.2" fill="#26a69a"/><rect x="566.49" y="339.54" width="2.74" height="6.66" fill="#26a69a"/><rect x="570.24" y="337.91" width="2.74" height="8.29" fill="#26a69a"/><rect x="573.98" y="336.99" width="2.74" height="9.21" fill="#26a69a"/><rect x="577.72" y="339.33" width="2.74" height="6.87" fill="#b2dfdb"/><rect x="581.47" y="337" width="2.74" height="9.2" fill="#26a69a"/><rect x="585.21" y="333.97" width="2.74" height="12.23" fill="#26a69a"/><rect x="588.95" y="333.24" width="2.74" height="12.96" fill="#26a69a"/><rect x="592.7" y="335.32" width="2.74" height="10.88" fill="#b2dfdb"/><rect x="596.44" y="336.43" width="2.74" height="9.77" fill="#b2dfdb"/><rect x="600.19" y="336.9" width="2.74" height="9.3" fill="#b2dfdb"/><rect x="603.93" y="337.12" width="2.74" height="9.08" fill="#b2dfdb"/><rect x="607.67" y="335.82" width="2.74" height="10.38" fill="#26a69a"/><rect x="611.42" y="335.95" width="2.74" height="10.25" fill="#b2dfdb"/><rect x="615.16" y="335.86" width="2.74" height="10.34" fill="#26a69a"/><rect x="618.9" y="337.98" width="2.74" height="8.22" fill="#b2dfdb"/><rect x="622.65" y="339.62" width="2.74" height="6.58" fill="#b2dfdb"/><rect x="626.39" y="342.3" width="2.74" height="3.9" fill="#b2dfdb"/><rect x="630.13" y="345.19" width="2.74" height="1.2" fill="#b2dfdb"/><rect x="633.88" y="345.68" width="2.74" height="1.2" fill="#b2dfdb"/><rect x="637.62" y="346.2" width="2.74" height="1.2" fill="#ff5252"/><rect x="641.36" y="346.2" width="2.74" height="2.28" fill="#ff5252"/><rect x="645.11" y="346.2" width="2.74" height="1.2" fill="#ffcdd2"/><rect x="648.85" y="345.49" width="2.74" height="1.2" fill="#26a69a"/><rect x="652.59" y="344.4" width="2.74" height="1.8" fill="#26a69a"/><rect x="656.34" y="343.84" width="2.74" height="2.36" fill="#26a69a"/><rect x="660.08" y="344.28" width="2.74" height="1.92" fill="#b2dfdb"/><rect x="663.82" y="343.96" width="2.74" height="2.24" fill="#26a69a"/><rect x="667.57" y="344.23" width="2.74" height="1.97" fill="#b2dfdb"/><rect x="671.31" y="344.21" width="2.74" height="1.99" fill="#26a69a"/><rect x="675.05" y="343.74" width="2.74" height="2.46" fill="#26a69a"/><rect x="678.8" y="343.57" width="2.74" height="2.63" fill="#26a69a"/><rect x="682.54" y="343.84" width="2.74" height="2.36" fill="#b2dfdb"/><rect x="686.28" y="342.98" width="2.74" height="3.22" fill="#26a69a"/><rect x="690.03" y="343.21" width="2.74" height="2.99" fill="#b2dfdb"/><rect x="693.77" y="342.46" width="2.74" height="3.74" fill="#26a69a"/><rect x="697.51" y="341.15" width="2.74" height="5.05" fill="#26a69a"/><rect x="701.26" y="339.96" width="2.74" height="6.24" fill="#26a69a"/><rect x="705" y="338.78" width="2.74" height="7.42" fill="#26a69a"/><rect x="708.74" y="336.72" width="2.74" height="9.48" fill="#26a69a"/><rect x="712.49" y="336.53" width="2.74" height="9.67" fill="#26a69a"/><rect x="716.23" y="338.2" width="2.74" height="8" fill="#b2dfdb"/><rect x="719.97" y="339.93" width="2.74" height="6.27" fill="#b2dfdb"/><rect x="723.72" y="341.45" width="2.74" height="4.75" fill="#b2dfdb"/><rect x="727.46" y="342.8" width="2.74" height="3.4" fill="#b2dfdb"/><rect x="731.2" y="343.46" width="2.74" height="2.74" fill="#b2dfdb"/><rect x="734.95" y="343.64" width="2.74" height="2.56" fill="#b2dfdb"/><rect x="738.69" y="340.87" width="2.74" height="5.33" fill="#26a69a"/><rect x="742.43" y="338.39" width="2.74" height="7.81" fill="#26a69a"/><rect x="746.18" y="338.5" width="2.74" height="7.7" fill="#b2dfdb"/><rect x="749.92" y="339.15" width="2.74" height="7.05" fill="#b2dfdb"/><rect x="753.66" y="340.06" width="2.74" height="6.14" fill="#b2dfdb"/><rect x="757.41" y="342.23" width="2.74" height="3.97" fill="#b2dfdb"/><rect x="761.15" y="344.86" width="2.74" height="1.34" fill="#b2dfdb"/><rect x="764.89" y="346.2" width="2.74" height="3.55" fill="#ff5252"/><rect x="768.64" y="346.2" width="2.74" height="5.6" fill="#ff5252"/><rect x="772.38" y="346.2" width="2.74" height="7.08" fill="#ff5252"/><rect x="776.12" y="346.2" width="2.74" height="7.08" fill="#ffcdd2"/><rect x="779.87" y="346.2" width="2.74" height="7.16" fill="#ff5252"/><rect x="783.61" y="346.2" width="2.74" height="9" fill="#ff5252"/><rect x="787.36" y="346.2" width="2.74" height="8.13" fill="#ffcdd2"/><rect x="791.1" y="346.2" width="2.74" height="6.63" fill="#ffcdd2"/><rect x="794.84" y="346.2" width="2.74" height="5.07" fill="#ffcdd2"/><rect x="798.59" y="346.2" width="2.74" height="7.58" fill="#ff5252"/><rect x="802.33" y="346.2" width="2.74" height="8.97" fill="#ff5252"/><rect x="806.07" y="346.2" width="2.74" height="13.43" fill="#ff5252"/><rect x="809.82" y="346.2" width="2.74" height="16.64" fill="#ff5252"/><rect x="813.56" y="346.2" width="2.74" height="16.2" fill="#ffcdd2"/><rect x="817.3" y="346.2" width="2.74" height="17.43" fill="#ff5252"/><rect x="821.05" y="346.2" width="2.74" height="18.99" fill="#ff5252"/><rect x="824.79" y="346.2" width="2.74" height="26.43" fill="#ff5252"/><rect x="828.53" y="346.2" width="2.74" height="23.43" fill="#ffcdd2"/><rect x="832.28" y="346.2" width="2.74" height="21.02" fill="#ffcdd2"/><rect x="836.02" y="346.2" width="2.74" height="17.09" fill="#ffcdd2"/><rect x="839.76" y="346.2" width="2.74" height="13.56" fill="#ffcdd2"/><rect x="843.51" y="346.2" width="2.74" height="11.08" fill="#ffcdd2"/><rect x="847.25" y="346.2" width="2.74" height="9.78" fill="#ffcdd2"/><rect x="850.99" y="346.2" width="2.74" height="8.58" fill="#ffcdd2"/><rect x="854.74" y="346.2" width="2.74" height="4.58" fill="#ffcdd2"/><rect x="858.48" y="346.2" width="2.74" height="1.2" fill="#ffcdd2"/><rect x="862.22" y="344.63" width="2.74" height="1.57" fill="#26a69a"/><rect x="865.97" y="342.57" width="2.74" height="3.63" fill="#26a69a"/><rect x="869.71" y="342.26" width="2.74" height="3.94" fill="#26a69a"/><rect x="873.45" y="342.55" width="2.74" height="3.65" fill="#b2dfdb"/><rect x="877.2" y="341.86" width="2.74" height="4.34" fill="#26a69a"/><rect x="880.94" y="340.21" width="2.74" height="5.99" fill="#26a69a"/><rect x="884.68" y="339.31" width="2.74" height="6.89" fill="#26a69a"/><rect x="888.43" y="338.82" width="2.74" height="7.38" fill="#26a69a"/><rect x="892.17" y="340.69" width="2.74" height="5.51" fill="#b2dfdb"/><rect x="895.91" y="341.97" width="2.74" height="4.23" fill="#b2dfdb"/><rect x="899.66" y="339.64" width="2.74" height="6.56" fill="#26a69a"/><rect x="903.4" y="338.61" width="2.74" height="7.59" fill="#26a69a"/><rect x="907.14" y="338.9" width="2.74" height="7.3" fill="#b2dfdb"/><path d="M10.6,341.05 L14.34,340.04 L18.08,339.28 L21.83,338.6 L25.57,337.88 L29.32,337.4 L33.06,336.93 L36.8,336.14 L40.55,334.51 L44.29,332.14 L48.03,329.57 L51.78,326.59 L55.52,323.36 L59.26,320.61 L63.01,318.13 L66.75,315.94 L70.49,314.36 L74.24,313.38 L77.98,312.96 L81.72,312.93 L85.47,312.76 L89.21,312.81 L92.95,313.21 L96.7,313.99 L100.44,314.96 L104.18,315.78 L107.93,316.83 L111.67,318.05 L115.41,319.6 L119.16,321.48 L122.9,324.01 L126.64,326.98 L130.39,329.8 L134.13,332.24 L137.87,334.59 L141.62,336.54 L145.36,337.77 L149.1,338.7 L152.85,339.48 L156.59,339.58 L160.33,339.35 L164.08,338.66 L167.82,337.25 L171.56,336.31 L175.31,335.83 L179.05,335.62 L182.79,335.74 L186.54,336.25 L190.28,337.64 L194.02,339.25 L197.77,341.34 L201.51,342.91 L205.25,344.36 L209,345.91 L212.74,348.1 L216.49,350.2 L220.23,352.2 L223.97,353.78 L227.72,355.76 L231.46,357.77 L235.2,359.8 L238.95,361.5 L242.69,362.5 L246.43,362.92 L250.18,363.08 L253.92,363.05 L257.66,362.98 L261.41,362.61 L265.15,361.9 L268.89,361.11 L272.64,359.78 L276.38,357.9 L280.12,355.63 L283.87,353.3 L287.61,351.12 L291.35,349.02 L295.1,346.86 L298.84,344.92 L302.58,343.03 L306.33,341.56 L310.07,340.38 L313.81,339.61 L317.56,339.63 L321.3,340.29 L325.04,341.03 L328.79,342.62 L332.53,344.54 L336.27,346.53 L340.02,348.03 L343.76,348.75 L347.5,349.02 L351.25,348.14 L354.99,346.21 L358.73,343.44 L362.48,340.31 L366.22,336.94 L369.96,333.35 L373.71,330.48 L377.45,327.8 L381.19,325.74 L384.94,325.52 L388.68,326.96 L392.42,328.83 L396.17,330.89 L399.91,333.45 L403.65,336.66 L407.4,340.58 L411.14,345.06 L414.89,349.52 L418.63,353.43 L422.37,356.45 L426.12,359.15 L429.86,361.62 L433.6,363.32 L437.35,364.23 L441.09,364.47 L444.83,363.67 L448.58,362.34 L452.32,360.93 L456.06,360.03 L459.81,359.76 L463.55,359.68 L467.29,359.55 L471.04,359.3 L474.78,359.69 L478.52,361.35 L482.27,363.27 L486.01,365.66 L489.75,367.79 L493.5,369.86 L497.24,371.23 L500.98,371.76 L504.73,372.32 L508.47,373 L512.21,374.03 L515.96,376.11 L519.7,378.44 L523.44,381.06 L527.19,384 L530.93,386.69 L534.67,389.3 L538.42,392.57 L542.16,396.22 L545.9,399.85 L549.65,402.73 L553.39,404.61 L557.13,405.86 L560.88,405.88 L564.62,404.83 L568.36,403.17 L572.11,401.1 L575.85,398.79 L579.59,397.08 L583.34,394.78 L587.08,391.72 L590.82,388.48 L594.57,385.76 L598.31,383.32 L602.06,380.99 L605.8,378.72 L609.54,376.13 L613.29,373.56 L617.03,370.98 L620.77,368.92 L624.52,367.28 L628.26,366.3 L632,366.05 L635.75,365.92 L639.49,366.2 L643.23,366.77 L646.98,366.94 L650.72,366.76 L654.46,366.31 L658.21,365.72 L661.95,365.24 L665.69,364.68 L669.44,364.19 L673.18,363.69 L676.92,363.08 L680.67,362.42 L684.41,361.83 L688.15,361.02 L691.9,360.27 L695.64,359.34 L699.38,358.08 L703.13,356.52 L706.87,354.66 L710.61,352.29 L714.36,349.87 L718.1,347.87 L721.84,346.3 L725.59,345.12 L729.33,344.27 L733.07,343.58 L736.82,342.94 L740.56,341.61 L744.3,339.66 L748.05,337.73 L751.79,335.97 L755.53,334.43 L759.28,333.44 L763.02,333.11 L766.76,333.99 L770.51,335.4 L774.25,337.17 L778,338.94 L781.74,340.73 L785.48,342.98 L789.23,345.01 L792.97,346.67 L796.71,347.93 L800.46,349.83 L804.2,352.07 L807.94,355.43 L811.69,359.59 L815.43,363.64 L819.17,368 L822.92,372.74 L826.66,379.35 L830.4,385.21 L834.15,390.46 L837.89,394.73 L841.63,398.12 L845.38,400.9 L849.12,403.34 L852.86,405.49 L856.61,406.63 L860.35,406.82 L864.09,406.43 L867.84,405.52 L871.58,404.54 L875.32,403.63 L879.07,402.54 L882.81,401.04 L886.55,399.32 L890.3,397.48 L894.04,396.1 L897.78,395.04 L901.53,393.4 L905.27,391.51 L909.01,389.68" fill="none" stroke="#ff6d00" stroke-width="1.05"/><path d="M10.6,338.06 L14.34,336.01 L18.08,336.2 L21.83,335.9 L25.57,335 L29.32,335.46 L33.06,335.08 L36.8,332.96 L40.55,328.02 L44.29,322.65 L48.03,319.27 L51.78,314.67 L55.52,310.45 L59.26,309.61 L63.01,308.2 L66.75,307.21 L70.49,308.03 L74.24,309.45 L77.98,311.29 L81.72,312.82 L85.47,312.07 L89.21,313.03 L92.95,314.81 L96.7,317.08 L100.44,318.85 L104.18,319.05 L107.93,321.02 L111.67,322.95 L115.41,325.8 L119.16,329.01 L122.9,334.1 L126.64,338.89 L130.39,341.06 L134.13,342.02 L137.87,343.96 L141.62,344.36 L145.36,342.69 L149.1,342.42 L152.85,342.6 L156.59,339.96 L160.33,338.46 L164.08,335.87 L167.82,331.64 L171.56,332.54 L175.31,333.92 L179.05,334.79 L182.79,336.18 L186.54,338.3 L190.28,343.18 L194.02,345.72 L197.77,349.7 L201.51,349.16 L205.25,350.19 L209,352.1 L212.74,356.84 L216.49,358.62 L220.23,360.18 L223.97,360.1 L227.72,363.7 L231.46,365.81 L235.2,367.89 L238.95,368.3 L242.69,366.53 L246.43,364.6 L250.18,363.71 L253.92,362.95 L257.66,362.69 L261.41,361.11 L265.15,359.05 L268.89,357.95 L272.64,354.48 L276.38,350.35 L280.12,346.58 L283.87,343.96 L287.61,342.43 L291.35,340.61 L295.1,338.24 L298.84,337.13 L302.58,335.45 L306.33,335.7 L310.07,335.66 L313.81,336.53 L317.56,339.7 L321.3,342.92 L325.04,343.99 L328.79,348.99 L332.53,352.21 L336.27,354.49 L340.02,354.04 L343.76,351.61 L347.5,350.13 L351.25,344.62 L354.99,338.51 L358.73,332.32 L362.48,327.8 L366.22,323.46 L369.96,319 L373.71,318.98 L377.45,317.11 L381.19,317.48 L384.94,324.67 L388.68,332.7 L392.42,336.33 L396.17,339.12 L399.91,343.71 L403.65,349.49 L407.4,356.27 L411.14,362.97 L414.89,367.36 L418.63,369.07 L422.37,368.51 L426.12,369.97 L429.86,371.51 L433.6,370.1 L437.35,367.89 L441.09,365.42 L444.83,360.45 L448.58,357.06 L452.32,355.28 L456.06,356.43 L459.81,358.7 L463.55,359.34 L467.29,359.02 L471.04,358.29 L474.78,361.25 L478.52,368.02 L482.27,370.92 L486.01,375.24 L489.75,376.31 L493.5,378.13 L497.24,376.69 L500.98,373.9 L504.73,374.55 L508.47,375.72 L512.21,378.13 L515.96,384.43 L519.7,387.77 L523.44,391.56 L527.19,395.73 L530.93,397.46 L534.67,399.72 L538.42,405.68 L542.16,410.82 L545.9,414.34 L549.65,414.28 L553.39,412.14 L557.13,410.86 L560.88,405.96 L564.62,400.64 L568.36,396.51 L572.11,392.81 L575.85,389.59 L579.59,390.21 L583.34,385.58 L587.08,379.49 L590.82,375.51 L594.57,374.88 L598.31,373.54 L602.06,371.69 L605.8,369.64 L609.54,365.75 L613.29,363.31 L617.03,360.64 L620.77,360.7 L624.52,360.7 L628.26,362.4 L632,365.04 L635.75,365.4 L639.49,367.31 L643.23,369.04 L646.98,367.65 L650.72,366.05 L654.46,364.51 L658.21,363.36 L661.95,363.32 L665.69,362.44 L669.44,362.22 L673.18,361.7 L676.92,360.62 L680.67,359.79 L684.41,359.47 L688.15,357.8 L691.9,357.28 L695.64,355.6 L699.38,353.03 L703.13,350.27 L706.87,347.23 L710.61,342.8 L714.36,340.2 L718.1,339.87 L721.84,340.03 L725.59,340.37 L729.33,340.87 L733.07,340.84 L736.82,340.38 L740.56,336.27 L744.3,331.85 L748.05,330.04 L751.79,328.92 L755.53,328.29 L759.28,329.47 L763.02,331.77 L766.76,337.55 L770.51,341 L774.25,344.25 L778,346.01 L781.74,347.89 L785.48,351.98 L789.23,353.13 L792.97,353.3 L796.71,353.01 L800.46,357.41 L804.2,361.04 L807.94,368.86 L811.69,376.23 L815.43,379.84 L819.17,385.42 L822.92,391.73 L826.66,405.78 L830.4,408.63 L834.15,411.48 L837.89,411.82 L841.63,411.68 L845.38,411.98 L849.12,413.13 L852.86,414.07 L856.61,411.22 L860.35,407.58 L864.09,404.86 L867.84,401.9 L871.58,400.6 L875.32,399.97 L879.07,398.21 L882.81,395.05 L886.55,392.43 L890.3,390.1 L894.04,390.59 L897.78,390.82 L901.53,386.84 L905.27,383.92 L909.01,382.38" fill="none" stroke="#2962ff" stroke-width="1.05"/></g><line x1="9" y1="292.5" x2="1015" y2="292.5" stroke="#1f1f1f" stroke-width="1"/><rect x="8.5" y="23.5" width="1007.0" height="428.0" fill="none" stroke="#2e2e2e" stroke-width="1"/><rect x="952.5" y="26.5" width="59" height="22" rx="4" fill="#0f0f0f" stroke="#363636" stroke-width="1"/><g opacity="0.999"><text x="9" y="16.6" fill="#d4d4d4" stroke="#d4d4d4" font-size="10.4" text-anchor="start" font-weight="normal" textLength="362" lengthAdjust="spacingAndGlyphs" class="tt">hussaynabdulraqeeb03 created with TradingView.com, Feb 27, 2026 11:57 UTC</text><text x="15.9" y="39.8" fill="#c6c6c6" stroke="#c6c6c6" font-size="10.2" text-anchor="start" font-weight="normal" textLength="159.9" lengthAdjust="spacingAndGlyphs" >Bitcoin / U.S. Dollar · 1D · Binance</text><text x="182.7" y="39.8" font-size="10"><tspan fill="#c6c6c6" stroke="#c6c6c6">O</tspan><tspan fill="#f23645" stroke="#f23645">67,514.55</tspan></text><text x="240.7" y="39.8" font-size="10"><tspan fill="#c6c6c6" stroke="#c6c6c6">H</tspan><tspan fill="#f23645" stroke="#f23645">68,311.90</tspan></text><text x="299.3" y="39.8" font-size="10"><tspan fill="#c6c6c6" stroke="#c6c6c6">L</tspan><tspan fill="#f23645" stroke="#f23645">66,000.00</tspan></text><text x="355.8" y="39.8" font-size="10"><tspan fill="#c6c6c6" stroke="#c6c6c6">C</tspan><tspan fill="#f23645" stroke="#f23645">66,068.53</tspan></text><text x="413.8" y="39.8" fill="#f23645" stroke="#f23645" font-size="10" text-anchor="start" font-weight="normal" textLength="86.5" lengthAdjust="spacingAndGlyphs" >−1,446.02 (−2.14%)</text><text x="15.9" y="54.7" fill="#c6c6c6" stroke="#c6c6c6" font-size="10" text-anchor="start" font-weight="normal" >Vol · BTC</text><text x="63.3" y="54.7" fill="#f23645" stroke="#f23645" font-size="10" text-anchor="start" font-weight="normal" >2</text><text x="15.9" y="69.3" fill="#c6c6c6" stroke="#c6c6c6" font-size="10" text-anchor="start" font-weight="normal" textLength="100.1" lengthAdjust="spacingAndGlyphs" >BB (20, SMA, close, 2)</text><text x="122.7" y="69.3" fill="#2962ff" stroke="#2962ff" font-size="10" text-anchor="start" font-weight="normal" >67,673.96</text><text x="173.8" y="69.3" fill="#f23645" stroke="#f23645" font-size="10" text-anchor="start" font-weight="normal" >70,873.60</text><text x="224.6" y="69.3" fill="#089981" stroke="#089981" font-size="10" text-anchor="start" font-weight="normal" >64,474.33</text><text x="15.6" y="309.2" fill="#c6c6c6" stroke="#c6c6c6" font-size="10" text-anchor="start" font-weight="normal" textLength="106.1" lengthAdjust="spacingAndGlyphs" >MACD (close, 12, 26, 9)</text><text x="129.3" y="309.2" fill="#b2dfdb" stroke="#b2dfdb" font-size="10" text-anchor="start" font-weight="normal" >643.48</text><text x="166.2" y="309.2" fill="#2962ff" stroke="#2962ff" font-size="10" text-anchor="start" font-weight="normal" >−3,123.87</text><text x="217.7" y="309.2" fill="#ff6d00" stroke="#ff6d00" font-size="10" text-anchor="start" font-weight="normal" >−3,767.34</text><text x="957.2" y="78.8" fill="#c6c6c6" stroke="#c6c6c6" font-size="10" text-anchor="start" font-weight="normal" class="tl">120,000.00</text><text x="957.2" y="110.8" fill="#c6c6c6" stroke="#c6c6c6" font-size="10" text-anchor="start" font-weight="normal" class="tl">110,000.00</text><text x="957.2" y="142.8" fill="#c6c6c6" stroke="#c6c6c6" font-size="10" text-anchor="start" font-weight="normal" class="tl">100,000.00</text><text x="957.2" y="174.8" fill="#c6c6c6" stroke="#c6c6c6" font-size="10" text-anchor="start" font-weight="normal" class="tl">90,000.00</text><text x="957.2" y="206.8" fill="#c6c6c6" stroke="#c6c6c6" font-size="10" text-anchor="start" font-weight="normal" class="tl">80,000.00</text><text x="957.2" y="321" fill="#c6c6c6" stroke="#c6c6c6" font-size="10" text-anchor="start" font-weight="normal" class="tl">2,500.00</text><text x="957.2" y="349.8" fill="#c6c6c6" stroke="#c6c6c6" font-size="10" text-anchor="start" font-weight="normal" class="tl">0.00</text><text x="957.2" y="378.6" fill="#c6c6c6" stroke="#c6c6c6" font-size="10" text-anchor="start" font-weight="normal" class="tl">−2,500.00</text><text x="957.2" y="407.4" fill="#c6c6c6" stroke="#c6c6c6" font-size="10" text-anchor="start" font-weight="normal" class="tl">−5,000.00</text><text x="960.1" y="40.9" fill="#dcdcdc" stroke="#dcdcdc" font-size="10" text-anchor="start" font-weight="normal" textLength="17.8" lengthAdjust="spacingAndGlyphs" class="th">USD</text><text x="122.9" y="443.7" fill="#c6c6c6" stroke="#c6c6c6" font-size="10" text-anchor="middle" font-weight="normal" >Aug</text><text x="238.95" y="443.7" fill="#c6c6c6" stroke="#c6c6c6" font-size="10" text-anchor="middle" font-weight="normal" >Sep</text><text x="351.25" y="443.7" fill="#c6c6c6" stroke="#c6c6c6" font-size="10" text-anchor="middle" font-weight="normal" >Oct</text><text x="467.29" y="443.7" fill="#c6c6c6" stroke="#c6c6c6" font-size="10" text-anchor="middle" font-weight="normal" >Nov</text><text x="579.59" y="443.7" fill="#c6c6c6" stroke="#c6c6c6" font-size="10" text-anchor="middle" font-weight="normal" >Dec</text><text x="695.64" y="443.7" fill="#c6c6c6" stroke="#c6c6c6" font-size="10" text-anchor="middle" font-weight="normal" class="tt">2026</text><text x="811.69" y="443.7" fill="#c6c6c6" stroke="#c6c6c6" font-size="10" text-anchor="middle" font-weight="normal" >Feb</text><text x="916.5" y="443.7" fill="#c6c6c6" stroke="#c6c6c6" font-size="10" text-anchor="middle" font-weight="normal" >Mar</text><rect x="949" y="211" width="57" height="15" fill="#f23645"/><text x="957" y="222.2" fill="#ffffff" stroke="#ffffff" font-size="10" class="th">70,873.60</text><rect x="949" y="226" width="57" height="14" fill="#2962ff"/><text x="957" y="236.2" fill="#ffffff" stroke="#ffffff" font-size="10" class="th">67,673.96</text><rect x="949" y="240" width="57" height="28" fill="#f23645"/><text x="957" y="251.6" fill="#ffffff" stroke="#ffffff" font-size="10" class="th">66,068.53</text><text x="957" y="263.3" fill="#ffffff" stroke="#ffffff" font-size="10" class="th">12:02:33</text><rect x="949" y="268" width="57" height="13" fill="#089981"/><text x="957" y="278.0" fill="#ffffff" stroke="#ffffff" font-size="10" class="th">64,474.33</text><rect x="949" y="282" width="17" height="10" fill="#ef5350"/><text x="957" y="292.6" fill="#ffffff" stroke="#ffffff" font-size="10" class="th">2</text><rect x="949" y="292" width="60" height="1" fill="#1f1f1f"/><rect x="949" y="293" width="60" height="1" fill="#0f0f0f"/><rect x="949" y="331" width="42" height="16" fill="#b2dfdb"/><text x="957" y="342.5" fill="#131722" stroke="#131722" font-size="10" class="th">643.48</text><rect x="949" y="375" width="57" height="14" fill="#2962ff"/><text x="957" y="386.1" fill="#ffffff" stroke="#ffffff" font-size="10" class="th">−3,123.87</text><rect x="949" y="389" width="57" height="15" fill="#ff6d00"/><text x="957" y="400.5" fill="#ffffff" stroke="#ffffff" font-size="10" class="th">−3,767.34</text></g>
<g fill="#e3e3e3">
<path d="M10.1,470.4 H20.3 V483.1 H15 V475.6 H10.1 Z"/>
<circle cx="24.8" cy="472.9" r="2.6"/>
<path d="M30,470.4 H35.9 L31.1,483.1 H25 Z"/>
</g>
<text x="42.2" y="483.1" fill="#e3e3e3" stroke="#e3e3e3" font-size="17.6" textLength="102.6" lengthAdjust="spacingAndGlyphs" opacity="0.999" style="font-family:'Liberation Sans',sans-serif;stroke-width:0.7px">TradingView</text>
</svg>
</body></html>
